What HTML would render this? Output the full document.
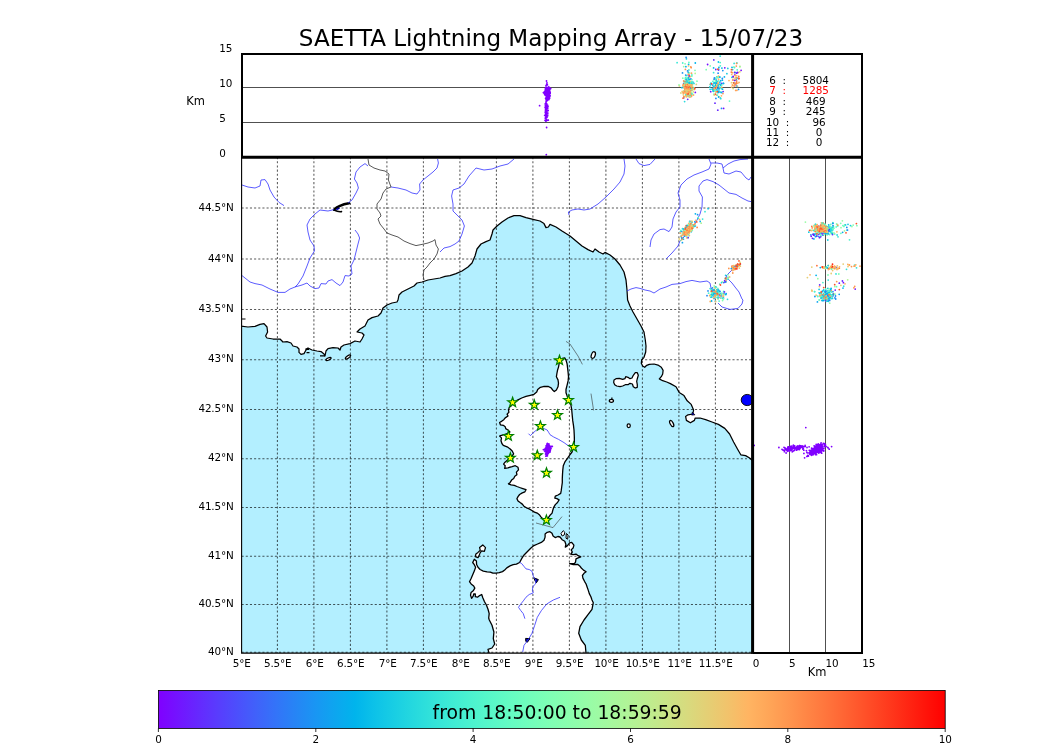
<!DOCTYPE html>
<html lang="en"><head><meta charset="utf-8"><title>SAETTA Lightning Mapping Array - 15/07/23</title>
<style>
html,body{margin:0;padding:0;background:#fff;}
svg{display:block;font-family:"DejaVu Sans","Liberation Sans",sans-serif;}
text{fill:#000;}
.tk{font-size:10.4px;letter-spacing:-0.16px;}
.grid{stroke:#000;stroke-width:1.04;stroke-dasharray:2.08 2.08;fill:none;opacity:.66}
.riv{stroke:#3232ff;stroke-width:0.8;fill:none;stroke-linejoin:round}
.cst{stroke:#000;stroke-width:1.25;fill:none;stroke-linejoin:round}
.land{fill:#fff;stroke:none}
.isl{fill:#fff;stroke:#000;stroke-width:1.25;stroke-linejoin:round}
</style></head><body>
<svg width="1050" height="750" viewBox="0 0 1050 750">
<defs>
<clipPath id="mapclip"><rect x="241.6" y="157.1" width="510.9" height="495.9"/></clipPath>

<linearGradient id="rb" x1="0" x2="1" y1="0" y2="0"><stop offset="0.000" stop-color="#8000ff"/><stop offset="0.025" stop-color="#7314ff"/><stop offset="0.050" stop-color="#6628fe"/><stop offset="0.075" stop-color="#593cfd"/><stop offset="0.100" stop-color="#4c4ffc"/><stop offset="0.125" stop-color="#4062fa"/><stop offset="0.150" stop-color="#3374f8"/><stop offset="0.175" stop-color="#2685f5"/><stop offset="0.200" stop-color="#1996f3"/><stop offset="0.225" stop-color="#0da6ef"/><stop offset="0.250" stop-color="#00b4ec"/><stop offset="0.275" stop-color="#0dc2e8"/><stop offset="0.300" stop-color="#19cee3"/><stop offset="0.325" stop-color="#26d9de"/><stop offset="0.350" stop-color="#33e3d9"/><stop offset="0.375" stop-color="#40ecd4"/><stop offset="0.400" stop-color="#4df3ce"/><stop offset="0.425" stop-color="#59f8c8"/><stop offset="0.450" stop-color="#66fcc2"/><stop offset="0.475" stop-color="#73febb"/><stop offset="0.500" stop-color="#80ffb4"/><stop offset="0.525" stop-color="#8cfead"/><stop offset="0.550" stop-color="#99fca6"/><stop offset="0.575" stop-color="#a6f89e"/><stop offset="0.600" stop-color="#b2f396"/><stop offset="0.625" stop-color="#bfec8e"/><stop offset="0.650" stop-color="#cce385"/><stop offset="0.675" stop-color="#d9d97d"/><stop offset="0.700" stop-color="#e5ce74"/><stop offset="0.725" stop-color="#f2c26b"/><stop offset="0.750" stop-color="#ffb462"/><stop offset="0.775" stop-color="#ffa658"/><stop offset="0.800" stop-color="#ff964f"/><stop offset="0.825" stop-color="#ff8545"/><stop offset="0.850" stop-color="#ff743c"/><stop offset="0.875" stop-color="#ff6232"/><stop offset="0.900" stop-color="#ff4f28"/><stop offset="0.925" stop-color="#ff3c1e"/><stop offset="0.950" stop-color="#ff2814"/><stop offset="0.975" stop-color="#ff140a"/><stop offset="1.000" stop-color="#ff0000"/></linearGradient>
</defs>
<rect width="1050" height="750" fill="#fff"/>
<text x="551" y="45.7" text-anchor="middle" font-size="23.05">SAETTA Lightning Mapping Array - 15/07/23</text>
<g clip-path="url(#mapclip)">
<rect x="241.6" y="157.1" width="510.9" height="495.9" fill="#b3efff"/>
<polygon class="land" points="230.0,326.0 241.0,326.0 248.0,327.0 255.0,326.4 260.0,324.4 264.0,323.6 267.0,327.0 267.6,332.0 265.6,336.0 267.0,338.0 273.0,339.0 280.0,339.0 283.0,342.0 287.0,341.6 291.0,343.0 293.0,346.0 297.0,347.0 299.0,349.0 299.0,352.4 301.0,354.4 304.0,353.6 306.0,350.0 308.0,348.0 312.0,350.0 317.0,351.0 321.0,351.6 324.0,354.0 325.0,356.0 326.0,351.0 328.0,348.6 333.0,347.6 338.0,348.0 340.0,350.0 341.0,347.0 344.0,345.0 350.0,343.6 355.0,341.0 360.0,342.0 362.0,339.0 364.0,335.0 362.0,333.0 357.0,332.0 360.0,329.0 365.0,326.0 368.0,320.0 372.0,317.6 378.0,316.0 381.0,313.0 383.0,308.0 387.0,305.0 392.0,303.0 397.0,302.0 398.0,300.0 399.0,295.0 402.0,292.0 406.0,290.0 410.0,288.0 414.0,286.0 417.0,283.0 422.0,282.0 428.0,280.0 434.0,279.0 440.0,278.0 445.0,276.4 450.0,275.6 456.0,273.6 462.0,271.0 468.0,267.0 472.0,263.0 475.0,256.0 477.0,249.0 481.0,244.0 486.0,241.6 490.0,240.0 492.0,234.0 493.0,230.0 497.0,226.0 502.0,222.0 508.0,218.0 514.0,215.6 520.0,215.6 526.0,217.6 534.0,219.6 540.0,221.0 544.0,223.6 546.0,227.6 548.4,227.0 550.0,224.4 556.0,227.0 562.0,231.0 570.0,236.0 576.0,241.0 582.0,246.0 588.0,249.6 593.0,252.0 595.0,249.0 599.0,252.0 603.0,254.0 605.0,252.4 610.0,255.0 615.0,259.0 620.0,265.0 624.0,272.0 626.0,280.0 627.0,290.0 627.6,300.0 630.0,306.0 633.0,312.0 637.0,319.0 641.0,326.0 644.0,332.0 645.3,340.0 646.0,346.0 645.7,352.0 644.0,357.3 641.7,360.0 641.3,363.3 642.7,366.0 644.7,367.3 646.7,365.3 649.3,364.3 654.0,364.0 658.0,365.1 661.3,367.3 663.1,370.4 662.7,374.0 661.3,376.7 659.3,378.9 662.7,380.7 666.7,382.0 670.4,383.6 676.0,386.8 679.2,392.4 684.0,395.6 687.2,400.8 691.2,404.4 693.6,410.0 692.8,414.0 688.0,414.8 685.6,416.4 686.4,420.4 690.4,422.8 694.4,420.4 695.2,418.0 700.0,418.0 705.6,419.6 712.0,422.0 718.4,424.4 724.8,428.4 729.6,434.0 733.6,442.0 737.6,449.2 740.8,454.8 745.6,455.6 749.6,458.0 753.0,461.0 760.0,461.0 760.0,150.0 230.0,150.0"/>
<polyline class="cst" points="241.0,326.0 248.0,327.0 255.0,326.4 260.0,324.4 264.0,323.6 267.0,327.0 267.6,332.0 265.6,336.0 267.0,338.0 273.0,339.0 280.0,339.0 283.0,342.0 287.0,341.6 291.0,343.0 293.0,346.0 297.0,347.0 299.0,349.0 299.0,352.4 301.0,354.4 304.0,353.6 306.0,350.0 308.0,348.0 312.0,350.0 317.0,351.0 321.0,351.6 324.0,354.0 325.0,356.0 326.0,351.0 328.0,348.6 333.0,347.6 338.0,348.0 340.0,350.0 341.0,347.0 344.0,345.0 350.0,343.6 355.0,341.0 360.0,342.0 362.0,339.0 364.0,335.0 362.0,333.0 357.0,332.0 360.0,329.0 365.0,326.0 368.0,320.0 372.0,317.6 378.0,316.0 381.0,313.0 383.0,308.0 387.0,305.0 392.0,303.0 397.0,302.0 398.0,300.0 399.0,295.0 402.0,292.0 406.0,290.0 410.0,288.0 414.0,286.0 417.0,283.0 422.0,282.0 428.0,280.0 434.0,279.0 440.0,278.0 445.0,276.4 450.0,275.6 456.0,273.6 462.0,271.0 468.0,267.0 472.0,263.0 475.0,256.0 477.0,249.0 481.0,244.0 486.0,241.6 490.0,240.0 492.0,234.0 493.0,230.0 497.0,226.0 502.0,222.0 508.0,218.0 514.0,215.6 520.0,215.6 526.0,217.6 534.0,219.6 540.0,221.0 544.0,223.6 546.0,227.6 548.4,227.0 550.0,224.4 556.0,227.0 562.0,231.0 570.0,236.0 576.0,241.0 582.0,246.0 588.0,249.6 593.0,252.0 595.0,249.0 599.0,252.0 603.0,254.0 605.0,252.4 610.0,255.0 615.0,259.0 620.0,265.0 624.0,272.0 626.0,280.0 627.0,290.0 627.6,300.0 630.0,306.0 633.0,312.0 637.0,319.0 641.0,326.0 644.0,332.0 645.3,340.0 646.0,346.0 645.7,352.0 644.0,357.3 641.7,360.0 641.3,363.3 642.7,366.0 644.7,367.3 646.7,365.3 649.3,364.3 654.0,364.0 658.0,365.1 661.3,367.3 663.1,370.4 662.7,374.0 661.3,376.7 659.3,378.9 662.7,380.7 666.7,382.0 670.4,383.6 676.0,386.8 679.2,392.4 684.0,395.6 687.2,400.8 691.2,404.4 693.6,410.0 692.8,414.0 688.0,414.8 685.6,416.4 686.4,420.4 690.4,422.8 694.4,420.4 695.2,418.0 700.0,418.0 705.6,419.6 712.0,422.0 718.4,424.4 724.8,428.4 729.6,434.0 733.6,442.0 737.6,449.2 740.8,454.8 745.6,455.6 749.6,458.0 753.0,461.0"/>
<polygon class="isl" style="stroke-width:1.3" points="510.5,406.5 513.2,403.3 517.5,400.1 521.7,398.0 526.0,396.4 530.3,395.3 534.0,394.3 536.7,392.1 537.7,389.5 540.4,387.3 544.1,386.3 548.4,386.5 551.1,387.9 552.7,390.0 554.3,391.6 556.4,390.0 558.0,386.8 558.5,383.1 558.0,379.9 556.4,376.7 556.9,373.5 557.5,370.3 558.5,367.1 559.1,363.9 559.6,361.2 562.3,358.5 564.9,358.0 566.0,360.1 567.1,363.9 567.6,368.1 568.1,372.4 568.5,376.7 568.1,380.9 567.1,385.2 566.0,389.5 566.0,392.7 567.1,395.9 568.7,400.1 570.8,404.4 571.7,409.7 572.2,415.1 572.7,420.4 573.5,425.7 574.0,430.0 574.3,436.0 574.4,441.0 573.8,447.0 572.0,452.0 569.7,455.0 567.6,458.2 564.9,461.9 563.3,465.7 562.8,469.9 562.5,474.2 562.3,478.5 562.3,482.7 561.7,487.0 561.2,490.7 560.7,493.4 558.0,495.0 555.3,496.1 554.8,498.2 556.9,498.7 559.1,499.8 557.5,502.5 555.3,504.6 553.7,507.3 552.7,510.5 552.1,513.1 550.5,514.7 548.9,516.9 546.3,520.6 542.5,518.5 540.9,516.9 539.3,514.7 537.2,513.1 534.5,512.1 531.9,510.5 529.2,508.9 526.5,507.8 523.9,506.2 522.3,504.1 520.1,502.5 518.0,500.9 516.9,498.7 518.0,496.6 519.6,494.5 522.3,492.9 524.9,491.8 526.0,489.7 522.8,488.6 519.6,487.5 516.9,486.5 514.3,485.4 511.1,484.9 508.4,483.8 510.0,482.7 511.6,480.1 513.7,478.5 514.8,476.3 516.9,474.7 516.4,472.1 518.5,469.9 518.0,467.3 515.3,465.7 512.1,466.7 507.9,467.8 504.7,468.3 505.2,465.7 503.6,464.1 504.7,462.5 507.9,459.8 511.7,456.6 513.6,453.8 512.2,451.0 509.9,448.7 507.1,446.8 503.3,445.4 501.9,443.5 501.0,440.7 501.5,437.9 499.6,436.1 500.5,435.6 504.3,434.7 508.0,433.3 509.9,431.9 508.0,430.0 505.7,428.6 505.2,426.7 503.3,425.3 500.5,424.9 499.6,422.5 501.9,421.1 503.8,419.7 505.2,417.9 508.0,416.0 507.1,414.1 508.9,412.3 508.5,409.9 509.4,407.1"/>
<polygon class="isl" style="stroke-width:1.3" points="489.3,654.0 488.0,649.3 492.0,648.0 494.7,644.0 493.3,638.7 493.9,632.0 492.0,625.3 489.3,620.0 488.7,618.0 489.2,613.7 488.1,609.5 486.5,605.2 484.4,601.5 482.8,597.7 481.7,594.5 479.6,595.6 477.5,597.2 475.3,596.7 475.3,594.0 473.7,594.0 473.2,596.1 471.6,598.3 470.5,595.1 471.1,592.4 473.2,590.8 474.8,588.1 473.7,586.0 471.1,583.9 469.5,581.7 471.1,578.5 472.7,574.8 474.3,571.1 475.6,567.3 474.3,564.7 472.7,562.5 474.3,559.3 476.4,560.9 476.6,564.5 478.0,567.3 480.1,569.5 483.3,571.1 487.1,571.9 490.3,572.1 492.9,573.2 496.1,573.2 499.3,572.7 502.5,571.6 504.7,570.0 506.8,567.9 510.0,565.9 513.2,564.7 516.4,564.1 519.6,562.5 522.1,557.9 524.3,554.7 527.5,551.5 530.7,548.3 533.9,545.6 537.6,544.0 541.3,542.4 544.0,540.3 545.1,537.1 545.1,533.9 547.2,532.3 549.9,531.7 552.0,533.3 553.1,536.0 555.2,537.6 557.9,536.5 560.0,537.0 562.1,539.7 564.8,541.3 565.9,544.5 565.3,547.2 567.5,545.6 569.6,542.9 571.7,542.4 573.9,545.1 573.3,547.7 571.2,549.9 572.3,552.0 570.7,554.1 573.3,554.7 576.0,554.1 578.1,555.7 580.8,556.8 578.1,557.9 576.0,558.9 575.5,562.1 574.4,563.7 569.6,563.7 573.3,564.6 577.6,564.3 579.7,565.9 581.3,568.0 583.5,570.1 586.1,571.7 584.0,573.3 582.4,575.5 582.9,578.1 584.5,581.3 586.1,584.0 587.2,587.2 588.3,590.4 589.3,593.6 590.9,596.8 592.0,600.0 593.3,602.7 592.0,609.3 588.0,614.7 584.0,620.0 580.0,626.7 578.7,633.3 581.3,640.0 585.3,645.3 586.1,654.0"/>
<polygon class="isl" points="482.8,544.9 485.5,547.6 484.4,551.3 481.6,550.9 480.1,552.9 479.1,555.6 478.0,557.7 475.3,556.7 475.9,554.0 478.0,552.4 480.3,550.3 479.6,547.6"/>
<polygon class="isl" points="614.0,380.0 616.0,378.7 619.3,378.4 622.7,379.3 624.9,378.7 625.7,376.7 628.0,377.3 630.0,378.7 632.0,378.0 633.3,375.3 635.3,372.7 637.3,372.7 638.3,375.3 637.3,378.7 636.7,381.3 637.3,384.7 637.3,387.3 635.3,388.0 633.3,386.7 632.4,384.0 630.0,383.3 628.0,384.7 625.3,384.7 622.7,386.0 620.0,386.7 616.7,386.0 614.7,384.7 613.7,382.4"/>
<ellipse class="isl" cx="593.3" cy="355" rx="1.9" ry="3.4" transform="rotate(20 593.2 355)"/>
<ellipse class="isl" cx="611.4" cy="400.8" rx="2.1" ry="1.5"/><path d="M611.9 397.6v2" stroke="#000" stroke-width="1.2"/>
<ellipse class="isl" cx="628.7" cy="425.7" rx="1.6" ry="1.8"/>
<ellipse class="isl" cx="671.7" cy="423.6" rx="1.5" ry="3.4" transform="rotate(-28 671.7 423.6)"/>
<ellipse class="isl" cx="328.5" cy="359" rx="2.8" ry="1.1" transform="rotate(-25 328.5 359)"/>
<ellipse class="isl" cx="348" cy="357" rx="3.1" ry="1.1" transform="rotate(-35 348 357)"/>
<path d="M305.5 348.3h3.5v1.8h-3.5zM306.5 352h3v1.2h-3zM320 355.3h5v1.2h-5z" fill="#000"/>
<path d="M242 319h3.5" stroke="#000" stroke-width="1.2"/>
<path class="isl" style="stroke-width:1" d="M561 533.5l2.2-2.8 1.6 1.5-.6 2.8-2 1zM566.3 533.5l1.8 1.5-.5 4.2-1.6-1z"/>
<ellipse cx="747.2" cy="400" rx="6" ry="5.6" fill="#0000ff" stroke="#000" stroke-width="0.9"/>
<path d="M692.3 412.2l2.6 2.6-3.2.3z" fill="#0000ff" stroke="#000" stroke-width="0.8"/>
<path d="M334 209.8C338 205.5 343 204.2 349 203.2" stroke="#000" stroke-width="2.4" fill="none" stroke-linecap="round"/>
<path d="M334 210C337 211.5 339 212 341.5 211.6" stroke="#000" stroke-width="1.6" fill="none" stroke-linecap="round"/>
<path d="M335.5 209.5l3-2.2 1.5 1.2-2.5 1.6z" fill="#0000c8"/>
<path d="M533.8 577.8l4.6 1.8-2 3.2-1.2-1.6z" fill="#0000c0" stroke="#000" stroke-width="1"/>
<path d="M525.6 638.4l4.4 .2-2.6 3.6-1.6-.8z" fill="#0000c0" stroke="#000" stroke-width="1"/>
<path class="grid" d="M277.4 157.1V653.0M313.9 157.1V653.0M350.4 157.1V653.0M386.9 157.1V653.0M423.4 157.1V653.0M459.9 157.1V653.0M496.4 157.1V653.0M532.9 157.1V653.0M569.4 157.1V653.0M605.9 157.1V653.0M642.4 157.1V653.0M678.9 157.1V653.0M715.4 157.1V653.0M241.6 652.2H752.5M241.6 604.4H752.5M241.6 556.2H752.5M241.6 507.6H752.5M241.6 458.7H752.5M241.6 409.4H752.5M241.6 359.7H752.5M241.6 309.6H752.5M241.6 259.1H752.5M241.6 208.1H752.5"/>
<polyline class="riv" points="242.0,185.0 248.0,187.0 255.0,188.0 260.0,186.0 261.0,180.0 265.0,179.6 268.0,184.0 270.0,190.0 274.0,197.0 279.0,202.4 284.0,205.6"/>
<polyline class="riv" points="334.0,209.6 328.0,211.0 320.0,210.0 315.0,214.0 310.0,219.0 307.0,225.0 308.0,232.0 310.0,240.0 314.0,246.0 314.4,251.0 310.0,258.0 307.0,266.0 303.0,276.0 298.0,284.0 295.0,287.0 290.0,289.0 285.0,292.4 278.0,292.4 270.0,289.0 262.0,285.0 255.0,283.6 250.0,282.0 245.0,278.0 242.0,275.6"/>
<polyline class="riv" points="348.0,203.0 352.0,200.0 356.0,193.0 358.4,188.0 357.0,183.0 354.4,179.0 356.0,172.0 360.0,167.0 365.0,163.6 368.0,166.0"/>
<polyline class="riv" points="355.0,230.0 358.0,234.0 359.6,238.0 358.0,244.0 356.0,252.0 354.0,260.0 351.0,266.0 352.0,274.0 349.0,276.0 345.0,275.6 343.0,282.0 340.0,285.6 336.0,283.0 332.0,279.6 328.0,281.0 326.0,284.0 321.0,283.6 319.0,288.0 315.0,288.6 310.0,286.0 307.0,283.0 302.0,285.0 297.0,286.4 295.0,287.0"/>
<polyline class="riv" points="391.0,187.0 398.0,188.0 406.0,190.0 412.0,193.0 417.0,194.0 420.0,190.0 419.6,184.0 423.0,180.0 428.0,176.0 433.0,172.0 437.0,168.0 438.4,163.0 437.6,159.0"/>
<polyline class="riv" points="440.0,252.0 444.0,248.0 450.0,246.6 455.0,244.0 459.0,241.0 462.0,234.0 464.4,226.0 462.0,220.0 457.0,215.0 453.0,211.0 453.0,204.0 451.6,196.0 453.0,190.0 459.0,188.0 464.0,184.0 469.0,176.0 476.0,168.0 484.0,170.0 492.0,169.0 500.0,166.0 508.0,164.0 514.0,159.0"/>
<polyline class="riv" points="569.0,215.0 568.4,212.0 572.0,210.0 578.0,209.0 584.0,210.0 590.0,209.0 598.0,204.0 606.0,197.0 614.0,189.0 620.0,182.0 624.0,174.0 625.0,166.0 624.0,159.0"/>
<polyline class="riv" points="636.0,159.0 639.0,163.6 644.0,165.6 650.0,164.4 655.0,159.0"/>
<polyline class="riv" points="650.0,247.0 651.0,240.0 654.0,234.0 660.0,229.6 664.0,229.0 669.0,231.6 672.0,227.0 673.0,219.0 676.0,212.0 680.0,207.0 680.0,200.0 678.0,193.0 681.0,185.0 687.0,179.0 694.0,175.0 702.0,172.0 709.0,169.0 711.0,164.0 709.0,159.0"/>
<polyline class="riv" points="711.0,163.0 717.0,163.0 722.0,164.0 723.0,168.0 724.0,173.0 729.0,174.0 736.0,171.0 741.0,172.0 746.0,178.0 749.0,180.0 751.0,177.0"/>
<polyline class="riv" points="723.0,168.0 728.0,164.0 734.0,161.0 740.0,159.6 748.0,159.0"/>
<polyline class="riv" points="666.0,259.0 672.0,253.0 678.0,246.0 680.0,241.0 686.0,235.0 692.0,229.0 697.0,220.0 700.0,214.0 702.0,207.0 702.4,197.0 699.0,191.0 699.0,186.0 703.0,181.0 707.0,179.6 713.0,181.6 719.0,185.0 724.0,189.0 729.0,193.0 736.0,194.4 742.0,198.0 748.0,201.0 751.0,201.6"/>
<polyline class="riv" points="627.0,291.0 631.0,289.0 636.0,287.6 640.0,288.4 645.0,290.0 650.0,291.0 654.0,293.0 660.0,289.0 666.0,287.0 672.0,284.4 680.0,283.6 686.0,281.6 692.0,280.4 700.0,282.0 707.0,281.0 710.0,283.0 711.0,288.0 713.0,290.0"/>
<polyline class="riv" points="732.0,270.0 729.0,273.0 726.0,276.0 729.0,280.0 732.0,283.0 735.0,287.0 739.0,292.0 742.0,299.0 743.0,300.0 742.0,304.0 738.0,308.4 730.0,309.4 722.0,307.0 718.0,303.0"/>
<polyline class="riv" points="528.5,433.7 530.4,435.6 533.2,432.8 536.5,430.0 539.7,428.6 543.5,428.4 547.2,430.0 548.6,432.3 550.0,434.7 553.7,437.0 558.4,439.3 564.0,442.6 568.0,445.5 572.0,448.0"/>
<polyline class="riv" points="519.6,562.3 521.7,563.6 523.9,566.3 526.0,568.9 529.2,569.5 531.9,571.1 532.9,574.3 533.5,576.9 535.6,579.6 535.6,583.9 532.9,586.5 532.4,590.3 533.3,592.9 529.2,594.5 526.0,597.2 523.3,600.9 520.7,604.1 518.5,607.3 520.7,610.5 523.3,613.7 524.9,618.7"/>
<polyline class="riv" points="560.0,597.3 553.3,600.0 546.7,604.0 541.3,610.7 537.3,617.3 534.7,625.3 532.0,633.3 528.0,640.0 524.0,645.3 522.7,652.0"/>
<polyline points="368.0,159.0 369.0,165.0 374.0,168.0 380.0,170.0 385.0,171.0 389.0,174.0 388.4,180.0 391.0,187.0 386.0,189.0 383.0,193.0 381.0,199.0 377.0,204.0 377.0,209.0 380.0,213.0 381.0,216.0 378.0,219.0 380.0,224.0 384.0,229.0 387.0,233.0 392.0,235.0 398.0,237.0 404.0,241.0 410.0,243.6 416.0,245.6 422.0,244.4 428.0,243.0 433.0,241.0 435.0,239.6 436.0,245.0 438.4,249.0 437.0,254.0 434.0,259.0 430.0,263.0 427.0,267.0 424.0,270.0 423.0,275.0 424.0,280.0" fill="none" stroke="#2e2e2e" stroke-width="0.8"/>
<polyline points="566.0,341.4 570.0,344.0 578.0,356.0 582.4,364.4" fill="none" stroke="#333" stroke-width="0.6"/>
<polyline points="591.0,393.6 593.6,410.4" fill="none" stroke="#333" stroke-width="0.6"/>
<polyline points="536.0,523.0 553.0,527.6 562.0,516.6" fill="none" stroke="#333" stroke-width="0.6"/>
</g>
<path d="M242 87.5H752M242 122.5H752M789.5 157V652M825.5 157V652" stroke="#3c3c3c" stroke-width="0.9" fill="none"/>
<g fill="none" stroke-width="1.8" stroke-linecap="round">
<path stroke="#8000ff" d="M546.0 450.1h.01M548.2 451.5h.01M545.9 456.2h.01M546.3 448.0h.01M548.6 449.2h.01M546.6 449.8h.01M548.7 452.3h.01M545.9 450.0h.01M546.9 450.0h.01M547.0 447.0h.01M547.5 444.8h.01M546.6 453.5h.01M545.7 451.7h.01M547.2 449.8h.01M544.6 450.9h.01M546.4 452.4h.01M548.6 452.3h.01M546.9 449.5h.01M546.9 451.9h.01M547.8 447.6h.01M548.9 446.8h.01M546.5 447.6h.01M548.5 447.4h.01M546.6 449.3h.01M547.1 447.7h.01M547.5 449.5h.01M546.7 453.9h.01M548.4 453.4h.01M546.6 445.6h.01M547.3 455.9h.01M547.7 451.8h.01M546.9 444.9h.01M547.1 445.7h.01M549.3 449.4h.01M546.7 449.0h.01M548.0 445.3h.01M548.3 451.7h.01M549.5 445.6h.01M548.0 452.4h.01M549.0 444.3h.01M546.9 452.5h.01M545.0 449.2h.01M547.8 450.4h.01M547.2 449.9h.01M548.2 446.5h.01M547.2 447.6h.01M548.3 451.1h.01M548.6 448.6h.01M549.7 451.4h.01M548.0 447.6h.01M547.2 446.9h.01M547.5 448.8h.01M547.7 449.0h.01M546.3 455.5h.01M549.8 452.0h.01M547.1 455.8h.01M547.8 452.6h.01M545.0 449.3h.01M550.6 449.0h.01M547.7 451.3h.01M546.9 447.4h.01M548.3 453.2h.01M545.1 451.6h.01M546.6 448.9h.01M546.3 448.3h.01M548.3 453.4h.01M549.7 450.7h.01M547.5 452.2h.01M548.3 450.1h.01M547.0 443.9h.01M546.2 445.6h.01M545.9 449.3h.01M548.3 451.5h.01M547.6 451.7h.01M547.3 449.9h.01M548.3 448.5h.01M548.2 452.1h.01M550.0 452.1h.01M546.8 449.0h.01M546.5 451.1h.01M546.1 448.5h.01M546.4 452.4h.01M545.6 454.0h.01M547.5 449.3h.01M546.3 451.1h.01M548.2 451.9h.01M546.4 450.6h.01M548.8 446.6h.01M546.6 453.6h.01M547.7 450.7h.01M548.5 451.1h.01M545.9 451.4h.01M546.5 451.2h.01M546.7 446.3h.01M546.4 449.9h.01M549.8 450.2h.01M548.9 444.0h.01M546.2 453.2h.01M545.3 448.5h.01M548.3 451.4h.01M547.9 452.3h.01M548.0 451.7h.01M547.7 448.1h.01M548.7 446.6h.01M545.7 448.0h.01M546.6 448.9h.01M547.2 453.2h.01M549.2 450.4h.01M547.5 447.9h.01M545.8 449.3h.01M549.0 446.1h.01M547.0 450.2h.01M549.2 449.9h.01M546.6 446.1h.01M548.7 452.1h.01M548.3 449.9h.01M547.6 452.5h.01M546.2 446.5h.01M545.9 450.8h.01M546.5 451.2h.01M547.0 451.2h.01M547.2 445.4h.01M548.9 448.4h.01M545.6 448.4h.01M547.3 453.8h.01M543.4 449.6h.01M546.6 452.3h.01M549.2 450.0h.01M548.6 450.7h.01M545.4 449.7h.01M547.4 449.2h.01M547.0 451.0h.01M547.5 453.1h.01M546.4 455.5h.01M546.8 450.6h.01M547.1 448.3h.01M547.3 451.1h.01M548.1 452.7h.01M547.2 447.4h.01M547.9 451.9h.01M546.6 450.6h.01M548.2 451.1h.01M548.0 447.9h.01M547.0 447.4h.01M548.2 449.8h.01M546.5 450.3h.01M547.4 443.5h.01M548.9 447.3h.01M548.5 453.2h.01M548.0 445.8h.01M548.2 450.9h.01M546.6 451.6h.01M547.4 454.9h.01M546.0 449.1h.01M546.4 448.4h.01M549.1 450.2h.01M545.6 451.6h.01M546.2 452.3h.01M546.4 449.2h.01M547.7 453.7h.01M545.9 448.8h.01M546.0 453.3h.01M547.7 449.5h.01M548.3 447.4h.01M547.2 446.4h.01M546.6 446.4h.01M546.3 447.5h.01M545.5 451.5h.01M546.5 448.9h.01M548.6 449.7h.01M549.8 447.9h.01M549.2 446.5h.01M548.2 451.0h.01M550.3 450.7h.01M549.4 446.8h.01M549.5 447.8h.01M547.9 448.8h.01M552.3 446.4h.01M548.6 449.0h.01M547.9 452.0h.01M549.1 449.6h.01M547.8 449.4h.01M547.5 450.2h.01M550.0 448.5h.01M548.9 447.3h.01M547.8 447.5h.01M550.7 447.2h.01M547.4 445.8h.01M547.7 450.6h.01M551.0 448.4h.01M549.0 449.9h.01M549.3 446.2h.01M548.7 450.2h.01M548.5 446.7h.01M548.5 450.6h.01M549.5 448.6h.01M547.5 450.4h.01M547.9 450.3h.01M548.3 449.1h.01M550.3 448.0h.01M547.7 450.1h.01M549.0 448.4h.01M547.1 449.8h.01M548.7 449.7h.01M545.7 448.8h.01M548.8 450.0h.01M548.4 447.8h.01M548.8 449.9h.01M549.4 450.5h.01M550.2 450.5h.01M546.0 448.9h.01M548.5 449.2h.01M548.3 447.9h.01M547.2 448.6h.01M550.0 449.2h.01M549.9 449.5h.01M547.1 449.0h.01M551.4 446.4h.01M547.7 447.5h.01M549.6 450.0h.01M548.2 450.7h.01M548.5 449.3h.01M546.4 449.2h.01M549.4 451.3h.01M550.4 449.0h.01M547.9 448.9h.01M545.1 448.7h.01M548.2 447.3h.01M549.8 448.6h.01M548.9 447.4h.01M549.3 449.6h.01M546.9 448.0h.01M548.4 449.3h.01M550.2 449.9h.01M548.2 450.8h.01M549.3 447.2h.01M548.6 450.2h.01M549.8 446.2h.01M549.1 449.7h.01M549.2 450.1h.01M546.7 92.0h.01M547.4 91.8h.01M546.7 89.5h.01M547.7 92.2h.01M548.7 95.9h.01M544.2 93.6h.01M546.9 90.9h.01M548.7 91.3h.01M545.9 91.4h.01M547.3 96.6h.01M548.2 99.3h.01M547.5 93.8h.01M546.1 89.3h.01M547.3 96.8h.01M545.6 98.4h.01M545.5 95.0h.01M543.4 92.6h.01M545.6 93.0h.01M549.1 87.5h.01M546.9 94.0h.01M547.6 91.0h.01M547.7 89.7h.01M548.7 90.3h.01M548.5 91.9h.01M548.1 93.8h.01M548.7 91.6h.01M549.7 96.7h.01M546.6 92.5h.01M546.7 92.8h.01M548.3 94.3h.01M547.6 94.0h.01M547.8 94.3h.01M544.7 93.9h.01M545.9 87.4h.01M547.8 96.3h.01M547.5 88.3h.01M548.8 96.9h.01M546.0 93.8h.01M549.2 94.1h.01M547.8 95.9h.01M549.4 90.0h.01M546.8 93.6h.01M547.5 90.0h.01M544.2 92.0h.01M546.8 92.1h.01M547.3 92.1h.01M547.5 93.4h.01M546.2 91.4h.01M548.7 94.0h.01M547.1 92.1h.01M547.6 97.0h.01M546.7 92.8h.01M547.4 95.8h.01M546.3 90.7h.01M547.2 94.5h.01M546.6 93.1h.01M547.8 93.6h.01M546.8 92.2h.01M549.6 94.6h.01M548.9 89.4h.01M550.1 89.1h.01M547.7 97.9h.01M545.0 95.0h.01M549.6 88.0h.01M546.8 93.6h.01M548.5 98.5h.01M547.8 89.9h.01M546.0 97.9h.01M546.8 87.4h.01M550.7 88.6h.01M546.6 94.0h.01M547.3 89.5h.01M545.3 90.2h.01M549.7 90.8h.01M549.0 96.7h.01M548.9 93.2h.01M545.3 92.9h.01M549.4 93.0h.01M546.6 93.9h.01M548.0 92.1h.01M545.4 88.9h.01M547.3 89.1h.01M549.7 91.9h.01M550.1 95.7h.01M548.6 93.3h.01M548.3 92.2h.01M544.8 93.0h.01M546.3 93.9h.01M548.3 99.3h.01M546.7 92.6h.01M548.6 92.7h.01M549.3 90.4h.01M545.4 94.7h.01M546.9 97.9h.01M547.9 97.4h.01M546.2 91.1h.01M549.1 89.3h.01M548.7 98.4h.01M546.6 99.1h.01M548.3 92.8h.01M547.2 93.8h.01M548.4 88.8h.01M548.9 99.6h.01M547.0 94.9h.01M550.1 92.3h.01M549.6 98.3h.01M550.1 92.9h.01M545.6 92.6h.01M548.8 96.6h.01M549.9 92.5h.01M547.3 97.9h.01M547.5 90.9h.01M548.1 92.7h.01M548.4 94.8h.01M545.6 93.0h.01M550.1 92.4h.01M548.0 88.2h.01M547.3 92.0h.01M547.4 88.7h.01M546.5 89.4h.01M549.3 93.6h.01M547.9 92.0h.01M545.6 88.2h.01M548.1 96.6h.01M545.1 91.4h.01M544.9 94.8h.01M546.0 102.5h.01M547.7 89.7h.01M548.0 87.3h.01M545.4 91.3h.01M547.4 84.9h.01M548.6 89.4h.01M547.2 90.2h.01M547.2 97.5h.01M547.7 98.7h.01M548.7 94.6h.01M545.7 90.8h.01M546.9 95.2h.01M545.5 88.3h.01M549.1 92.0h.01M547.0 97.2h.01M548.9 90.4h.01M548.8 93.6h.01M546.7 92.8h.01M548.9 92.0h.01M546.8 92.0h.01M547.1 94.0h.01M545.9 87.9h.01M548.0 93.2h.01M548.0 95.6h.01M548.7 87.0h.01M549.1 92.2h.01M549.1 98.8h.01M546.5 89.7h.01M547.3 95.0h.01M546.1 94.1h.01M548.0 95.5h.01M548.3 95.2h.01M547.6 96.2h.01M547.9 89.1h.01M546.3 90.7h.01M547.5 91.5h.01M547.5 88.8h.01M545.5 88.2h.01M545.7 91.1h.01M548.2 95.4h.01M547.7 92.5h.01M548.2 94.2h.01M548.9 91.7h.01M548.5 92.2h.01M549.7 94.9h.01M547.4 94.7h.01M546.3 96.9h.01M548.9 91.3h.01M547.3 92.2h.01M546.8 97.9h.01M548.5 94.7h.01M549.6 94.8h.01M545.4 92.0h.01M546.4 96.3h.01M546.2 91.1h.01M547.8 94.0h.01M548.8 89.6h.01M546.8 88.5h.01M547.1 93.4h.01M548.5 91.8h.01M548.3 92.0h.01M549.0 90.9h.01M548.2 94.9h.01M546.0 85.6h.01M545.7 94.6h.01M547.5 92.9h.01M547.6 95.4h.01M547.1 87.6h.01M548.7 91.6h.01M548.1 91.7h.01M549.2 87.8h.01M547.6 88.7h.01M550.0 91.8h.01M550.2 93.2h.01M547.6 95.9h.01M545.2 90.9h.01M547.8 92.6h.01M546.8 93.7h.01M547.0 91.8h.01M545.8 90.2h.01M546.5 97.2h.01M546.6 84.5h.01M547.0 89.0h.01M547.3 92.9h.01M544.9 93.9h.01M546.0 95.6h.01M549.1 93.7h.01M548.9 91.1h.01M548.7 94.8h.01M547.7 97.8h.01M546.6 90.1h.01M544.9 91.5h.01M549.2 91.2h.01M545.8 92.2h.01M545.2 112.1h.01M547.1 110.6h.01M545.9 113.8h.01M545.5 110.4h.01M545.1 107.2h.01M546.4 107.2h.01M546.6 115.8h.01M546.2 116.5h.01M546.6 112.1h.01M545.2 118.1h.01M546.8 104.7h.01M546.4 100.1h.01M545.7 106.9h.01M547.0 117.3h.01M547.0 105.8h.01M548.0 120.1h.01M546.2 119.3h.01M546.4 110.9h.01M546.3 96.1h.01M546.9 107.5h.01M545.9 117.5h.01M546.1 107.5h.01M545.2 103.9h.01M545.7 118.1h.01M548.0 106.5h.01M546.1 120.0h.01M546.8 107.7h.01M546.6 109.6h.01M547.4 100.5h.01M544.7 115.4h.01M546.4 115.2h.01M546.6 111.0h.01M546.8 117.5h.01M546.6 116.8h.01M546.3 110.4h.01M545.5 108.9h.01M546.4 109.0h.01M545.6 107.5h.01M545.9 116.7h.01M547.6 105.2h.01M546.5 112.2h.01M546.6 112.1h.01M546.8 111.7h.01M545.8 108.4h.01M545.7 113.2h.01M546.1 117.8h.01M546.6 114.0h.01M547.7 108.2h.01M546.9 98.7h.01M546.1 112.5h.01M547.1 120.3h.01M547.2 96.8h.01M545.9 121.2h.01M545.4 112.8h.01M546.6 120.0h.01M545.4 105.6h.01M548.3 120.2h.01M545.3 107.6h.01M547.8 115.1h.01M546.9 105.7h.01M545.5 117.9h.01M546.5 115.1h.01M546.1 100.0h.01M546.2 110.1h.01M545.7 114.1h.01M546.1 101.7h.01M546.2 92.7h.01M547.9 113.1h.01M546.5 113.1h.01M546.6 115.8h.01M547.2 115.4h.01M547.5 107.2h.01M546.7 115.7h.01M547.4 116.0h.01M547.2 115.5h.01M548.2 110.5h.01M546.8 104.0h.01M547.0 116.3h.01M545.8 113.6h.01M546.5 108.4h.01M545.8 108.2h.01M547.1 113.1h.01M547.0 98.8h.01M547.5 115.9h.01M545.0 120.3h.01M546.3 113.5h.01M547.1 105.3h.01M547.1 108.7h.01M547.4 116.0h.01M546.9 108.7h.01M539.6 105.7h.01M546.3 154.7h.01M546.5 81.0h.01M547.0 83.0h.01M546.6 127.5h.01M813.9 453.3h.01M817.0 448.3h.01M810.7 454.1h.01M818.4 447.1h.01M812.1 452.2h.01M816.5 448.8h.01M819.0 452.8h.01M816.1 450.9h.01M818.5 449.9h.01M807.8 455.5h.01M818.8 447.3h.01M813.2 453.2h.01M814.1 451.0h.01M824.8 445.5h.01M821.7 450.0h.01M815.3 452.1h.01M819.0 451.8h.01M821.2 452.3h.01M820.5 452.4h.01M824.2 444.4h.01M814.7 446.8h.01M821.9 448.5h.01M822.2 447.5h.01M817.2 449.5h.01M825.4 444.3h.01M818.4 446.1h.01M813.5 454.6h.01M821.7 447.8h.01M813.0 450.1h.01M814.4 450.3h.01M818.2 446.3h.01M812.2 452.7h.01M815.6 446.2h.01M813.7 451.7h.01M816.9 449.5h.01M816.4 449.3h.01M811.1 453.9h.01M809.2 452.9h.01M816.6 447.6h.01M817.0 449.0h.01M818.2 448.1h.01M811.9 455.0h.01M811.3 451.9h.01M819.8 447.9h.01M818.7 452.1h.01M811.4 450.4h.01M810.8 452.3h.01M820.8 447.3h.01M819.6 450.7h.01M812.2 449.8h.01M818.8 449.0h.01M817.2 450.9h.01M820.1 448.2h.01M818.0 447.8h.01M813.5 449.3h.01M817.1 448.5h.01M816.4 450.3h.01M821.7 453.2h.01M818.4 451.3h.01M818.7 448.4h.01M819.9 448.9h.01M814.9 451.8h.01M819.4 447.7h.01M818.1 449.7h.01M812.2 451.4h.01M817.2 449.0h.01M816.0 449.7h.01M818.4 449.3h.01M819.2 447.0h.01M813.2 450.1h.01M817.5 451.5h.01M813.9 449.8h.01M804.6 457.8h.01M808.4 455.6h.01M809.9 454.1h.01M817.6 451.0h.01M815.7 454.7h.01M813.1 449.2h.01M816.6 447.3h.01M812.0 449.4h.01M810.5 452.0h.01M827.7 447.5h.01M814.8 447.8h.01M817.3 448.6h.01M819.8 450.6h.01M813.2 454.5h.01M810.1 453.5h.01M812.2 448.3h.01M818.8 450.1h.01M816.0 451.3h.01M813.4 451.4h.01M811.4 450.7h.01M815.4 449.8h.01M811.5 452.9h.01M817.7 447.3h.01M823.7 450.3h.01M806.9 456.4h.01M818.8 448.9h.01M814.1 450.8h.01M810.4 450.7h.01M811.1 452.0h.01M819.1 451.3h.01M817.6 448.0h.01M817.6 448.8h.01M815.0 451.1h.01M806.9 452.5h.01M824.6 443.7h.01M816.6 451.3h.01M815.3 451.2h.01M814.4 451.8h.01M813.8 452.5h.01M814.3 450.8h.01M817.5 448.6h.01M815.1 449.7h.01M816.3 446.9h.01M820.6 447.9h.01M818.7 448.5h.01M818.7 450.9h.01M811.3 453.1h.01M815.4 453.4h.01M817.8 449.3h.01M817.0 449.6h.01M813.4 449.1h.01M822.0 446.4h.01M819.7 449.7h.01M819.6 447.6h.01M819.7 448.0h.01M814.9 448.1h.01M803.9 453.4h.01M815.3 449.4h.01M811.6 448.2h.01M817.3 445.0h.01M819.6 449.0h.01M817.6 450.7h.01M811.3 455.3h.01M813.2 452.6h.01M816.1 449.4h.01M816.5 447.9h.01M816.8 451.6h.01M820.1 447.8h.01M814.8 447.5h.01M819.2 446.2h.01M820.8 448.6h.01M811.3 452.5h.01M821.4 451.1h.01M816.2 452.5h.01M823.9 448.4h.01M808.4 456.0h.01M813.7 451.6h.01M814.8 453.3h.01M811.9 453.0h.01M819.9 449.4h.01M821.3 450.6h.01M815.7 452.4h.01M810.3 450.6h.01M823.8 450.9h.01M818.3 448.3h.01M816.0 451.2h.01M811.7 451.2h.01M815.4 450.4h.01M809.9 451.0h.01M818.3 452.4h.01M815.7 449.2h.01M821.1 447.8h.01M818.6 447.9h.01M813.4 452.7h.01M814.2 452.9h.01M818.7 451.3h.01M817.9 451.7h.01M820.3 451.3h.01M807.6 452.8h.01M809.7 454.1h.01M820.7 447.8h.01M814.9 449.3h.01M822.6 448.6h.01M820.5 449.5h.01M817.1 450.6h.01M818.4 447.7h.01M819.8 444.7h.01M822.4 450.0h.01M815.2 449.3h.01M811.6 452.4h.01M817.6 451.1h.01M820.2 448.3h.01M814.2 447.8h.01M818.8 453.0h.01M816.5 451.0h.01M816.2 454.1h.01M817.7 452.4h.01M820.3 446.6h.01M809.3 450.3h.01M818.2 448.8h.01M819.0 448.9h.01M816.5 448.1h.01M816.5 454.7h.01M819.7 449.0h.01M814.1 451.5h.01M816.9 451.0h.01M816.2 445.9h.01M819.0 449.9h.01M818.9 448.6h.01M817.6 448.5h.01M815.9 452.0h.01M815.2 451.5h.01M823.3 451.0h.01M812.2 454.1h.01M815.2 450.7h.01M828.1 447.8h.01M820.8 450.8h.01M819.0 449.8h.01M818.1 447.6h.01M821.1 442.9h.01M818.7 445.9h.01M818.2 443.9h.01M822.5 447.0h.01M815.1 446.3h.01M820.7 445.5h.01M819.4 446.4h.01M817.8 446.6h.01M820.4 447.6h.01M819.1 445.9h.01M818.6 447.0h.01M816.2 444.5h.01M823.3 443.3h.01M820.1 447.4h.01M821.0 447.8h.01M821.6 446.0h.01M820.5 444.2h.01M821.2 445.9h.01M821.8 447.4h.01M821.7 448.6h.01M822.3 446.6h.01M820.6 449.4h.01M820.9 445.3h.01M821.1 447.2h.01M819.2 446.0h.01M821.5 446.4h.01M824.7 446.6h.01M818.8 447.9h.01M817.8 446.8h.01M819.2 446.0h.01M821.0 445.8h.01M819.0 446.1h.01M818.5 444.8h.01M817.0 447.1h.01M819.1 446.2h.01M822.1 444.7h.01M821.7 446.1h.01M821.6 445.3h.01M816.6 445.7h.01M824.4 444.0h.01M821.2 446.3h.01M820.5 446.2h.01M822.0 445.1h.01M820.9 445.2h.01M819.2 446.6h.01M818.6 447.7h.01M818.2 446.7h.01M816.4 445.1h.01M826.1 446.4h.01M818.7 447.6h.01M819.8 447.0h.01M818.4 446.6h.01M822.8 446.7h.01M820.3 445.4h.01M814.1 445.8h.01M818.6 447.6h.01M816.6 446.1h.01M819.1 444.8h.01M822.8 446.1h.01M797.6 447.6h.01M800.7 447.1h.01M790.5 450.0h.01M796.8 447.6h.01M791.5 447.2h.01M796.0 448.2h.01M792.2 448.2h.01M794.3 447.8h.01M794.9 447.3h.01M791.5 448.4h.01M798.8 447.6h.01M791.8 448.9h.01M803.3 448.5h.01M799.4 449.5h.01M807.0 447.5h.01M809.1 446.8h.01M794.5 450.3h.01M789.6 448.4h.01M798.7 448.8h.01M794.4 447.9h.01M804.9 446.7h.01M796.9 446.3h.01M802.4 447.0h.01M792.1 449.1h.01M805.2 446.3h.01M793.4 445.2h.01M798.0 446.9h.01M797.5 447.9h.01M797.5 446.1h.01M792.6 448.2h.01M800.4 447.4h.01M803.3 446.4h.01M800.1 446.0h.01M799.9 448.6h.01M795.9 448.4h.01M797.1 448.9h.01M799.7 447.0h.01M793.1 447.3h.01M794.6 448.5h.01M789.9 448.8h.01M794.3 447.6h.01M801.0 446.4h.01M797.8 447.8h.01M806.4 450.6h.01M787.7 451.3h.01M801.0 447.1h.01M797.1 446.8h.01M794.3 447.3h.01M788.7 447.8h.01M795.3 448.0h.01M799.9 445.6h.01M793.4 447.6h.01M802.9 447.0h.01M793.8 446.5h.01M795.8 448.8h.01M800.3 448.0h.01M792.3 447.6h.01M793.7 447.7h.01M803.8 450.2h.01M793.6 446.7h.01M799.6 445.6h.01M798.0 446.9h.01M800.8 447.6h.01M788.0 446.9h.01M792.5 447.1h.01M790.5 448.0h.01M794.4 447.6h.01M798.5 447.8h.01M802.9 448.1h.01M800.9 445.8h.01M797.0 447.6h.01M790.5 446.3h.01M792.4 448.8h.01M796.7 448.0h.01M794.4 448.8h.01M800.0 448.4h.01M796.6 450.2h.01M802.1 445.8h.01M794.7 446.0h.01M796.2 449.2h.01M794.8 446.8h.01M800.3 447.4h.01M790.0 448.9h.01M791.9 448.5h.01M798.1 449.4h.01M788.4 446.9h.01M790.9 446.9h.01M799.0 449.1h.01M778.9 447.5h.01M802.5 447.6h.01M797.2 448.4h.01M790.0 447.4h.01M802.8 449.1h.01M788.2 449.3h.01M799.1 448.3h.01M798.1 448.6h.01M805.1 445.4h.01M797.6 446.1h.01M797.3 447.2h.01M787.8 447.7h.01M797.8 448.7h.01M794.4 447.4h.01M788.1 447.9h.01M793.3 447.2h.01M800.8 447.5h.01M799.1 447.8h.01M800.8 446.6h.01M798.7 446.2h.01M791.7 446.1h.01M799.4 447.5h.01M788.0 449.4h.01M788.4 449.7h.01M784.5 450.9h.01M791.4 448.0h.01M792.1 449.3h.01M790.8 448.4h.01M791.2 450.3h.01M788.5 448.5h.01M790.6 447.3h.01M791.8 450.0h.01M787.8 447.5h.01M790.5 449.1h.01M787.7 450.4h.01M789.7 448.8h.01M794.2 448.5h.01M789.7 451.0h.01M792.9 451.3h.01M785.5 449.6h.01M788.1 450.2h.01M787.0 448.9h.01M784.0 447.3h.01M787.2 450.0h.01M786.7 449.6h.01M785.0 447.9h.01M789.0 448.6h.01M791.4 447.7h.01M790.4 448.3h.01M787.7 447.6h.01M789.0 449.0h.01M791.6 450.1h.01M791.8 448.0h.01M785.1 449.0h.01M790.7 448.4h.01M790.1 449.3h.01M791.3 450.0h.01M794.0 450.5h.01M786.1 453.0h.01M789.5 449.5h.01M789.6 449.2h.01M790.4 448.9h.01M784.4 451.7h.01M787.5 449.7h.01M784.5 450.5h.01M789.9 450.6h.01M788.5 450.4h.01M788.5 450.1h.01M785.8 448.6h.01M787.3 449.5h.01M788.5 450.7h.01M785.3 448.5h.01M790.7 448.0h.01M789.9 449.6h.01M789.7 448.9h.01M789.1 449.1h.01M792.2 451.8h.01M789.2 447.8h.01M786.9 450.5h.01M789.3 449.9h.01M789.3 450.1h.01M782.0 449.3h.01M805.8 427.6h.01M754.2 445.4h.01M831.6 446.6h.01M829.2 449.2h.01M783.0 450.0h.01"/>
<path stroke="#7510ff" d="M732.9 80.1h.01M724.8 67.8h.01M843.4 282.7h.01M835.2 290.1h.01M719.1 294.3h.01M828.5 229.0h.01M734.8 74.9h.01M821.1 296.4h.01M707.6 64.5h.01"/>
<path stroke="#6628fe" d="M683.8 97.8h.01M715.8 69.5h.01M715.0 103.2h.01M824.1 299.0h.01M828.7 228.4h.01M713.8 59.9h.01M723.8 282.6h.01"/>
<path stroke="#1996f3" d="M846.8 227.4h.01M691.3 227.3h.01M697.9 218.3h.01M823.7 300.5h.01M720.5 92.3h.01M683.7 83.3h.01M820.6 236.2h.01M819.9 293.6h.01M815.3 236.6h.01M691.7 228.5h.01M721.5 108.4h.01M695.3 225.9h.01M718.2 84.1h.01M725.6 278.1h.01"/>
<path stroke="#00b4ec" d="M824.4 232.0h.01M722.5 89.2h.01M686.1 235.7h.01M713.4 87.9h.01M822.6 296.0h.01M720.8 297.9h.01M813.9 234.7h.01M688.0 237.4h.01M717.9 292.1h.01M692.9 82.2h.01M828.3 231.4h.01M716.7 293.6h.01"/>
<path stroke="#2489f5" d="M715.9 98.4h.01M713.4 294.5h.01M718.1 295.3h.01M824.8 297.4h.01M715.2 296.7h.01M828.5 233.9h.01M688.9 232.8h.01"/>
<path stroke="#0fc4e7" d="M690.2 89.1h.01M823.7 289.8h.01M832.6 230.0h.01"/>
<path stroke="#0fa3f0" d="M833.1 295.8h.01M683.4 231.5h.01M839.2 294.3h.01"/>
<path stroke="#19cee3" d="M716.9 76.8h.01M725.6 275.3h.01M683.2 87.3h.01M827.9 233.6h.01M717.7 84.9h.01M688.5 78.0h.01"/>
<path stroke="#38e7d7" d="M714.0 290.2h.01M714.9 89.8h.01"/>
<path stroke="#33e3d9" d="M854.6 265.1h.01M727.8 279.1h.01M721.8 293.3h.01"/>
<path stroke="#4df3ce" d="M717.5 291.8h.01M711.0 82.8h.01"/>
<path stroke="#29dbde" d="M831.5 227.5h.01M688.9 74.1h.01"/>
<path stroke="#29dbde" d="M832.5 232.7h.01M825.9 290.2h.01M815.3 233.8h.01M822.8 229.4h.01M829.6 292.1h.01M832.5 298.4h.01"/>
<path stroke="#19cee3" d="M711.2 289.7h.01M848.0 224.3h.01M713.8 86.8h.01M734.9 266.6h.01M689.5 227.4h.01"/>
<path stroke="#1996f3" d="M712.7 294.7h.01M688.0 92.2h.01M691.4 231.6h.01"/>
<path stroke="#4df3ce" d="M720.2 62.6h.01M837.7 225.9h.01M691.0 231.6h.01M829.8 228.6h.01M720.3 65.8h.01M686.0 235.1h.01M817.6 296.2h.01M726.2 281.8h.01M712.9 81.3h.01M814.6 291.6h.01M824.2 293.8h.01"/>
<path stroke="#00b4ec" d="M692.6 89.6h.01M724.7 282.2h.01M685.5 228.5h.01M695.4 213.8h.01M716.6 89.7h.01M688.3 72.4h.01M823.7 299.9h.01M715.5 78.6h.01M689.1 84.0h.01M827.6 268.0h.01M843.0 288.1h.01M716.5 294.4h.01M713.6 67.9h.01"/>
<path stroke="#66fcc2" d="M836.5 286.7h.01M687.3 230.6h.01M717.4 77.7h.01M833.8 228.2h.01M686.6 227.2h.01M825.7 289.0h.01"/>
<path stroke="#7510ff" d="M690.9 88.8h.01M734.8 83.4h.01M735.7 84.0h.01M735.8 268.5h.01"/>
<path stroke="#38e7d7" d="M713.6 72.7h.01M710.1 288.6h.01M740.1 264.7h.01M677.1 62.7h.01"/>
<path stroke="#0fc4e7" d="M686.0 87.9h.01M832.3 228.7h.01M688.4 84.1h.01M690.0 81.6h.01"/>
<path stroke="#0fa3f0" d="M710.5 84.5h.01M717.7 88.6h.01M819.7 227.3h.01"/>
<path stroke="#6628fe" d="M832.7 223.3h.01M723.1 91.6h.01M688.0 237.7h.01M818.8 232.7h.01M716.4 294.0h.01"/>
<path stroke="#80ffb4" d="M718.3 293.2h.01M688.9 233.6h.01M715.9 78.2h.01"/>
<path stroke="#2489f5" d="M691.3 224.7h.01"/>
<path stroke="#99fca6" d="M711.8 291.0h.01"/>
<path stroke="#33e3d9" d="M829.4 290.9h.01"/>
<path stroke="#00b4ec" d="M829.7 227.0h.01M689.3 89.0h.01M711.2 294.6h.01M831.5 298.4h.01M826.3 296.3h.01M685.7 86.0h.01M693.4 225.0h.01M820.2 233.1h.01M716.7 82.2h.01"/>
<path stroke="#1996f3" d="M827.7 291.4h.01M684.3 235.9h.01M690.7 228.1h.01M691.0 84.9h.01M718.5 87.9h.01M682.5 72.9h.01M713.0 85.5h.01"/>
<path stroke="#38e7d7" d="M838.0 236.8h.01M832.3 294.6h.01M828.7 296.6h.01M830.3 231.9h.01"/>
<path stroke="#0fc4e7" d="M829.3 293.3h.01M708.1 208.7h.01M717.2 295.0h.01"/>
<path stroke="#33e3d9" d="M684.2 90.8h.01"/>
<path stroke="#19cee3" d="M829.0 294.3h.01M713.9 292.3h.01M714.4 290.7h.01M830.7 228.9h.01M684.1 229.9h.01M827.8 240.0h.01M827.9 232.8h.01"/>
<path stroke="#4df3ce" d="M716.2 84.2h.01M832.9 222.6h.01M684.1 81.3h.01M822.2 227.0h.01M828.0 230.5h.01M824.7 292.6h.01"/>
<path stroke="#2489f5" d="M707.0 295.7h.01M835.5 296.0h.01M715.9 81.0h.01"/>
<path stroke="#66fcc2" d="M686.5 83.8h.01M716.0 80.7h.01M823.7 295.3h.01"/>
<path stroke="#6628fe" d="M721.8 83.3h.01M727.3 277.6h.01M689.1 230.4h.01M836.1 267.4h.01"/>
<path stroke="#80ffb4" d="M687.9 82.2h.01M711.9 289.8h.01M692.0 83.5h.01M716.6 292.8h.01M685.1 63.8h.01M688.1 83.3h.01"/>
<path stroke="#99fca6" d="M851.9 226.5h.01M725.0 278.6h.01M817.8 278.7h.01M688.5 84.1h.01"/>
<path stroke="#29dbde" d="M830.1 294.1h.01M832.8 228.4h.01M820.8 294.8h.01"/>
<path stroke="#0fa3f0" d="M723.5 83.4h.01M726.2 293.7h.01"/>
<path stroke="#7510ff" d="M827.5 294.3h.01"/>
<path stroke="#b2f396" d="M687.3 228.6h.01"/>
<path stroke="#dbd77b" d="M688.6 228.5h.01"/>
<path stroke="#f0c46d" d="M821.6 227.9h.01M684.3 232.6h.01M825.9 230.5h.01M691.0 221.2h.01"/>
<path stroke="#e5ce74" d="M821.9 227.0h.01"/>
<path stroke="#33e3d9" d="M836.0 273.9h.01"/>
<path stroke="#80ffb4" d="M833.5 226.5h.01M717.1 82.8h.01M685.6 230.8h.01M716.5 297.3h.01"/>
<path stroke="#00b4ec" d="M714.8 291.4h.01M715.4 301.2h.01M725.8 294.5h.01M712.1 290.4h.01M695.3 63.0h.01M719.1 88.2h.01M717.8 289.3h.01M827.4 301.1h.01"/>
<path stroke="#1996f3" d="M713.5 292.9h.01M688.3 85.0h.01M814.7 234.5h.01M714.4 85.9h.01"/>
<path stroke="#38e7d7" d="M827.8 226.9h.01M680.4 231.6h.01"/>
<path stroke="#66fcc2" d="M829.5 234.6h.01M690.1 83.0h.01M817.8 296.6h.01M686.5 80.5h.01M843.9 226.4h.01M682.4 234.7h.01"/>
<path stroke="#29dbde" d="M727.5 299.3h.01M688.6 229.7h.01"/>
<path stroke="#faba65" d="M815.7 229.6h.01M687.9 93.4h.01M690.8 226.0h.01"/>
<path stroke="#4df3ce" d="M821.8 225.5h.01M684.4 231.3h.01M820.5 227.8h.01"/>
<path stroke="#99fca6" d="M805.4 222.1h.01M689.5 72.9h.01M836.4 268.6h.01"/>
<path stroke="#2489f5" d="M690.9 79.0h.01M832.9 291.7h.01M829.7 300.4h.01"/>
<path stroke="#f0c46d" d="M834.4 266.9h.01M686.6 227.5h.01M688.6 96.7h.01"/>
<path stroke="#b2f396" d="M819.2 233.5h.01M688.8 78.9h.01"/>
<path stroke="#19cee3" d="M716.3 81.3h.01M825.5 295.9h.01M683.6 86.0h.01M716.6 291.3h.01"/>
<path stroke="#dbd77b" d="M818.5 230.9h.01M814.4 227.6h.01M686.2 232.9h.01M828.3 265.5h.01M686.8 89.5h.01"/>
<path stroke="#7510ff" d="M688.6 93.5h.01M855.2 289.1h.01"/>
<path stroke="#e5ce74" d="M679.2 239.0h.01M710.2 84.3h.01M826.0 229.6h.01M684.5 233.8h.01M687.8 229.2h.01M824.5 229.9h.01"/>
<path stroke="#ffb462" d="M690.9 86.2h.01M831.5 268.1h.01M688.9 94.0h.01"/>
<path stroke="#0fa3f0" d="M719.0 91.2h.01"/>
<path stroke="#ffa356" d="M687.2 93.0h.01M818.2 228.3h.01"/>
<path stroke="#ffaf5e" d="M686.9 91.5h.01M732.7 80.0h.01"/>
<path stroke="#6628fe" d="M825.3 292.1h.01"/>
<path stroke="#99fca6" d="M841.0 227.7h.01M681.4 237.6h.01"/>
<path stroke="#00b4ec" d="M720.8 85.0h.01M688.6 64.5h.01M689.0 83.5h.01M813.9 238.9h.01M684.8 85.9h.01"/>
<path stroke="#b2f396" d="M716.4 295.2h.01M847.7 279.8h.01M684.4 88.1h.01M687.1 226.4h.01"/>
<path stroke="#ff964f" d="M688.3 89.8h.01M823.9 230.9h.01M735.4 268.5h.01M822.8 229.9h.01M695.1 223.8h.01M686.2 231.5h.01M736.3 66.1h.01"/>
<path stroke="#ffa356" d="M686.3 85.2h.01M723.4 296.4h.01M682.9 85.8h.01M734.3 86.1h.01M737.4 86.3h.01M860.0 266.2h.01"/>
<path stroke="#ff8947" d="M687.7 89.4h.01M820.2 227.1h.01M686.7 85.8h.01M737.9 264.9h.01"/>
<path stroke="#80ffb4" d="M825.5 295.3h.01M717.5 76.8h.01M689.4 232.8h.01"/>
<path stroke="#4df3ce" d="M737.2 69.8h.01M831.6 292.0h.01M821.1 230.0h.01"/>
<path stroke="#19cee3" d="M720.0 87.3h.01M689.9 88.7h.01M718.1 291.0h.01M687.3 85.3h.01M712.6 89.5h.01M816.8 234.0h.01M825.1 233.8h.01"/>
<path stroke="#0fa3f0" d="M690.8 228.5h.01M689.7 82.8h.01M832.9 223.3h.01"/>
<path stroke="#0fc4e7" d="M715.9 292.9h.01M826.6 233.6h.01M829.0 292.9h.01M831.4 229.6h.01"/>
<path stroke="#66fcc2" d="M690.1 82.8h.01M686.5 78.5h.01M825.0 296.5h.01M717.0 294.6h.01"/>
<path stroke="#e5ce74" d="M739.9 66.5h.01M683.3 94.8h.01"/>
<path stroke="#7510ff" d="M834.4 268.0h.01M733.3 77.2h.01M821.7 233.7h.01"/>
<path stroke="#ffb462" d="M687.7 91.6h.01M814.9 231.0h.01"/>
<path stroke="#6628fe" d="M839.3 283.2h.01"/>
<path stroke="#faba65" d="M688.9 230.2h.01M685.1 227.5h.01M685.5 83.2h.01"/>
<path stroke="#ffaf5e" d="M826.0 268.0h.01"/>
<path stroke="#dbd77b" d="M686.1 232.2h.01"/>
<path stroke="#f0c46d" d="M833.4 268.4h.01"/>
<path stroke="#1996f3" d="M697.6 214.7h.01M683.4 232.9h.01"/>
<path stroke="#38e7d7" d="M688.2 83.6h.01M702.6 219.1h.01"/>
<path stroke="#1996f3" d="M716.3 80.1h.01M810.9 234.9h.01M736.4 79.8h.01M687.1 81.6h.01M717.2 83.6h.01"/>
<path stroke="#0fa3f0" d="M723.5 298.1h.01M686.0 229.0h.01"/>
<path stroke="#dbd77b" d="M686.3 91.8h.01M685.4 90.8h.01M684.4 87.4h.01"/>
<path stroke="#19cee3" d="M683.6 232.1h.01"/>
<path stroke="#e5ce74" d="M686.4 96.9h.01M822.2 230.0h.01M692.0 86.5h.01M713.3 293.5h.01M824.7 230.8h.01"/>
<path stroke="#ff743c" d="M818.0 231.5h.01M822.1 226.9h.01M738.7 76.5h.01M839.3 268.2h.01M691.7 89.7h.01"/>
<path stroke="#4df3ce" d="M849.5 239.8h.01M723.6 291.3h.01M828.8 291.5h.01M720.0 91.8h.01"/>
<path stroke="#ff964f" d="M831.8 265.8h.01M814.8 228.7h.01M853.9 287.8h.01M834.7 268.7h.01M825.6 227.0h.01M722.9 93.6h.01M685.8 84.9h.01M689.9 76.8h.01M686.2 229.9h.01M688.0 230.1h.01"/>
<path stroke="#ffaf5e" d="M855.8 264.8h.01M685.8 84.5h.01M715.7 83.0h.01M689.0 85.6h.01"/>
<path stroke="#f0c46d" d="M692.9 83.6h.01M686.7 85.9h.01"/>
<path stroke="#00b4ec" d="M714.2 290.2h.01M816.1 236.4h.01M722.4 80.2h.01M821.3 293.7h.01"/>
<path stroke="#66fcc2" d="M830.8 224.3h.01"/>
<path stroke="#ffb462" d="M734.3 84.1h.01M822.7 297.3h.01M699.5 219.5h.01"/>
<path stroke="#ff4f28" d="M815.4 231.6h.01M684.1 84.7h.01M685.6 233.4h.01M687.3 95.6h.01M689.0 91.0h.01"/>
<path stroke="#0fc4e7" d="M828.6 297.6h.01"/>
<path stroke="#2489f5" d="M681.6 231.4h.01"/>
<path stroke="#7510ff" d="M736.4 85.9h.01M710.7 91.7h.01M828.6 227.3h.01"/>
<path stroke="#38e7d7" d="M686.7 85.4h.01"/>
<path stroke="#6628fe" d="M823.2 235.1h.01"/>
<path stroke="#ff8947" d="M716.6 292.2h.01M691.0 228.9h.01M685.8 87.5h.01M736.3 265.9h.01"/>
<path stroke="#80ffb4" d="M856.9 225.7h.01M830.1 291.3h.01"/>
<path stroke="#faba65" d="M690.3 226.4h.01"/>
<path stroke="#ffa356" d="M688.7 87.7h.01"/>
<path stroke="#33e3d9" d="M718.0 85.2h.01"/>
<path stroke="#4df3ce" d="M711.5 295.6h.01M815.1 229.1h.01M718.4 291.2h.01"/>
<path stroke="#ffa356" d="M825.4 230.0h.01"/>
<path stroke="#19cee3" d="M715.5 86.6h.01M689.5 226.7h.01M694.1 226.4h.01M692.0 222.2h.01M684.7 81.6h.01"/>
<path stroke="#7510ff" d="M687.0 229.6h.01M819.5 237.7h.01M812.5 238.3h.01M741.1 70.3h.01"/>
<path stroke="#ffaf5e" d="M686.0 233.2h.01M823.8 231.3h.01M824.3 226.3h.01M821.2 225.8h.01"/>
<path stroke="#ffb462" d="M815.1 227.0h.01M811.5 230.6h.01M684.4 231.2h.01M825.1 230.9h.01M737.7 83.2h.01M691.0 227.2h.01M686.5 91.1h.01M835.3 267.0h.01"/>
<path stroke="#99fca6" d="M690.1 84.3h.01"/>
<path stroke="#66fcc2" d="M817.1 229.8h.01M687.6 86.9h.01M688.8 77.3h.01M836.8 224.4h.01M823.9 232.8h.01M685.6 77.3h.01M683.0 233.8h.01M687.3 228.1h.01"/>
<path stroke="#6628fe" d="M718.8 87.7h.01"/>
<path stroke="#80ffb4" d="M689.1 90.2h.01M686.2 232.9h.01"/>
<path stroke="#33e3d9" d="M720.4 97.9h.01M688.5 226.3h.01M689.4 94.4h.01"/>
<path stroke="#ff743c" d="M818.7 226.3h.01M683.8 92.9h.01"/>
<path stroke="#0fa3f0" d="M821.1 293.4h.01M842.6 232.3h.01M721.5 295.0h.01"/>
<path stroke="#0fc4e7" d="M687.6 91.4h.01"/>
<path stroke="#ff964f" d="M688.0 92.0h.01M689.8 229.2h.01M833.6 293.8h.01M688.0 228.8h.01M834.5 266.1h.01M831.1 290.7h.01"/>
<path stroke="#dbd77b" d="M687.3 86.8h.01M819.8 228.9h.01M820.0 227.7h.01M684.4 96.7h.01"/>
<path stroke="#faba65" d="M685.4 88.9h.01M687.2 84.4h.01M691.2 224.8h.01M716.0 92.0h.01M830.7 295.9h.01"/>
<path stroke="#29dbde" d="M692.0 224.7h.01"/>
<path stroke="#e5ce74" d="M684.5 87.3h.01"/>
<path stroke="#ff4f28" d="M684.5 233.3h.01M713.3 292.3h.01"/>
<path stroke="#00b4ec" d="M820.3 267.6h.01M724.4 76.9h.01M825.6 298.0h.01"/>
<path stroke="#ff8947" d="M821.2 228.6h.01"/>
<path stroke="#1996f3" d="M726.1 279.9h.01"/>
<path stroke="#ff8947" d="M825.0 228.6h.01M687.0 82.5h.01M731.8 267.4h.01M689.6 226.6h.01M817.5 231.5h.01"/>
<path stroke="#1996f3" d="M691.5 227.6h.01M722.8 70.6h.01M720.5 293.6h.01M685.7 75.1h.01M714.0 297.1h.01M738.5 89.4h.01"/>
<path stroke="#ffb462" d="M685.1 230.6h.01M731.5 87.1h.01"/>
<path stroke="#2489f5" d="M716.2 84.2h.01M713.2 89.3h.01"/>
<path stroke="#ffa356" d="M735.7 78.4h.01M687.4 229.1h.01M821.4 294.4h.01M689.1 95.7h.01"/>
<path stroke="#ffaf5e" d="M686.6 227.8h.01M739.0 82.4h.01M732.3 269.8h.01"/>
<path stroke="#00b4ec" d="M711.7 297.2h.01M686.0 227.4h.01M720.7 80.7h.01M825.7 298.7h.01"/>
<path stroke="#80ffb4" d="M821.4 292.6h.01M832.4 227.8h.01M713.9 79.7h.01M853.2 225.1h.01"/>
<path stroke="#4df3ce" d="M685.8 232.5h.01M827.3 291.7h.01"/>
<path stroke="#7510ff" d="M825.9 300.9h.01M723.6 108.4h.01"/>
<path stroke="#ff964f" d="M683.7 81.0h.01M687.1 232.7h.01M735.3 78.3h.01M822.4 223.5h.01M691.6 88.8h.01"/>
<path stroke="#6628fe" d="M823.5 297.5h.01M715.8 81.3h.01M816.9 236.0h.01"/>
<path stroke="#ff743c" d="M686.0 87.9h.01M732.6 270.4h.01"/>
<path stroke="#66fcc2" d="M831.2 232.7h.01M690.9 81.9h.01M718.4 292.6h.01M824.1 229.8h.01"/>
<path stroke="#dbd77b" d="M732.4 267.6h.01M690.4 226.4h.01M718.0 298.9h.01"/>
<path stroke="#19cee3" d="M712.6 295.5h.01M718.7 88.4h.01"/>
<path stroke="#99fca6" d="M714.2 286.0h.01"/>
<path stroke="#e5ce74" d="M690.3 92.2h.01M820.9 297.4h.01M688.0 93.8h.01"/>
<path stroke="#b2f396" d="M682.8 234.6h.01"/>
<path stroke="#ff4f28" d="M732.1 266.2h.01M686.2 225.7h.01"/>
<path stroke="#f0c46d" d="M822.8 226.8h.01M695.6 220.4h.01M818.7 228.7h.01"/>
<path stroke="#0fc4e7" d="M716.3 89.4h.01M828.0 227.8h.01M681.9 87.7h.01M828.4 296.5h.01"/>
<path stroke="#29dbde" d="M837.1 235.0h.01M709.8 86.9h.01"/>
<path stroke="#33e3d9" d="M856.5 267.8h.01"/>
<path stroke="#e5ce74" d="M816.3 229.1h.01M807.4 277.6h.01"/>
<path stroke="#1996f3" d="M723.9 293.5h.01M690.9 228.6h.01M828.7 300.2h.01"/>
<path stroke="#ff4f28" d="M736.7 266.7h.01M689.5 228.8h.01M833.5 294.3h.01M823.0 229.7h.01"/>
<path stroke="#19cee3" d="M722.8 298.2h.01M825.3 295.1h.01M828.5 291.8h.01M686.4 58.8h.01M710.1 89.3h.01"/>
<path stroke="#0fa3f0" d="M817.4 301.9h.01M718.7 69.1h.01"/>
<path stroke="#38e7d7" d="M716.4 294.7h.01M824.1 296.2h.01"/>
<path stroke="#faba65" d="M683.7 231.8h.01M738.2 265.9h.01M686.8 231.1h.01"/>
<path stroke="#ff964f" d="M688.3 74.5h.01M685.3 230.0h.01M688.7 230.0h.01M686.0 95.2h.01M825.2 268.2h.01M686.0 229.8h.01M693.3 225.0h.01M826.9 299.4h.01M690.3 94.1h.01"/>
<path stroke="#80ffb4" d="M728.0 274.8h.01M827.5 228.1h.01M736.9 86.1h.01M830.6 298.4h.01M822.5 230.1h.01"/>
<path stroke="#f0c46d" d="M832.6 270.6h.01M739.3 268.1h.01M816.9 226.4h.01"/>
<path stroke="#99fca6" d="M685.0 84.7h.01M686.8 83.9h.01"/>
<path stroke="#ffa356" d="M688.8 90.9h.01M736.5 267.4h.01M826.6 297.4h.01"/>
<path stroke="#ffb462" d="M819.4 286.6h.01M694.2 87.9h.01M820.5 230.3h.01M721.4 95.8h.01M689.3 235.6h.01"/>
<path stroke="#ffaf5e" d="M710.2 301.5h.01M689.6 95.0h.01M686.7 92.7h.01M693.5 95.0h.01"/>
<path stroke="#2489f5" d="M721.1 295.9h.01M714.4 78.0h.01"/>
<path stroke="#00b4ec" d="M821.9 230.0h.01M827.9 296.3h.01"/>
<path stroke="#33e3d9" d="M828.2 280.1h.01M717.2 294.1h.01M846.5 269.3h.01"/>
<path stroke="#66fcc2" d="M685.5 83.4h.01M693.0 228.1h.01M684.1 87.5h.01M823.6 293.4h.01M823.8 296.9h.01"/>
<path stroke="#6628fe" d="M718.5 70.1h.01"/>
<path stroke="#ff743c" d="M688.3 230.6h.01M713.7 290.4h.01"/>
<path stroke="#4df3ce" d="M824.9 293.7h.01"/>
<path stroke="#dbd77b" d="M818.9 230.2h.01"/>
<path stroke="#29dbde" d="M685.6 235.3h.01"/>
<path stroke="#7510ff" d="M695.3 92.4h.01M811.2 236.3h.01M734.7 72.5h.01"/>
<path stroke="#dbd77b" d="M696.3 84.4h.01M687.2 233.4h.01"/>
<path stroke="#ff743c" d="M683.2 92.1h.01M687.8 84.2h.01M689.2 94.3h.01"/>
<path stroke="#29dbde" d="M690.2 223.6h.01"/>
<path stroke="#2489f5" d="M828.3 230.3h.01M714.2 79.1h.01"/>
<path stroke="#80ffb4" d="M831.8 230.0h.01M720.9 294.9h.01M825.2 224.5h.01M687.6 81.6h.01M827.1 234.9h.01M691.8 76.2h.01M693.2 226.9h.01M713.9 94.2h.01"/>
<path stroke="#99fca6" d="M822.0 227.9h.01"/>
<path stroke="#ffa356" d="M824.2 266.9h.01M736.9 90.3h.01M684.4 87.3h.01M814.5 225.1h.01"/>
<path stroke="#ffb462" d="M692.9 226.5h.01M735.9 83.8h.01M680.4 233.0h.01M685.7 232.6h.01M816.2 231.2h.01M733.0 77.6h.01"/>
<path stroke="#ff8947" d="M688.6 230.3h.01M697.1 227.4h.01"/>
<path stroke="#19cee3" d="M824.6 294.3h.01M687.7 228.5h.01M822.4 291.1h.01M689.0 83.0h.01M732.6 69.6h.01M821.9 300.4h.01"/>
<path stroke="#faba65" d="M692.4 227.3h.01M823.5 227.5h.01M684.2 92.0h.01M692.6 227.3h.01"/>
<path stroke="#66fcc2" d="M820.8 227.9h.01M831.5 297.2h.01"/>
<path stroke="#f0c46d" d="M817.4 226.3h.01M685.5 234.7h.01M723.0 296.0h.01"/>
<path stroke="#ff5e30" d="M735.9 266.1h.01"/>
<path stroke="#e5ce74" d="M837.3 265.8h.01M692.7 227.1h.01"/>
<path stroke="#33e3d9" d="M734.5 67.6h.01M820.3 233.8h.01"/>
<path stroke="#1996f3" d="M719.9 82.1h.01M718.8 297.5h.01"/>
<path stroke="#0fa3f0" d="M682.4 242.7h.01M713.3 91.0h.01"/>
<path stroke="#00b4ec" d="M719.3 77.0h.01M716.0 85.4h.01M829.9 231.2h.01M718.9 67.3h.01M719.8 291.4h.01"/>
<path stroke="#ffaf5e" d="M821.0 231.2h.01M849.3 265.0h.01"/>
<path stroke="#ff964f" d="M735.4 269.3h.01"/>
<path stroke="#0fc4e7" d="M819.0 232.3h.01M822.8 295.7h.01"/>
<path stroke="#ff4f28" d="M691.2 84.9h.01M692.1 88.5h.01"/>
<path stroke="#4df3ce" d="M721.2 87.2h.01"/>
<path stroke="#6628fe" d="M828.4 231.1h.01"/>
<path stroke="#ff8947" d="M681.8 238.0h.01M824.9 230.5h.01M685.5 85.3h.01"/>
<path stroke="#00b4ec" d="M713.2 292.5h.01M828.8 292.6h.01M831.1 288.3h.01M822.5 300.5h.01M826.1 267.5h.01"/>
<path stroke="#ffa356" d="M687.1 89.0h.01M822.9 227.6h.01M690.4 227.3h.01"/>
<path stroke="#f0c46d" d="M732.6 268.4h.01M690.3 81.5h.01M715.5 301.5h.01M822.2 230.5h.01"/>
<path stroke="#19cee3" d="M731.9 77.3h.01M681.1 236.3h.01M821.0 292.6h.01M832.9 227.2h.01"/>
<path stroke="#4df3ce" d="M821.6 228.2h.01M715.4 294.1h.01M827.0 228.9h.01M728.5 277.3h.01M834.6 233.9h.01"/>
<path stroke="#ffb462" d="M812.0 291.0h.01M691.0 88.5h.01M831.4 233.1h.01M823.1 228.6h.01M686.0 92.3h.01M826.5 231.7h.01M694.1 89.5h.01M823.8 231.7h.01M845.0 283.8h.01M687.9 231.3h.01"/>
<path stroke="#ff964f" d="M851.5 266.6h.01M824.7 225.3h.01M687.5 90.5h.01"/>
<path stroke="#ff4f28" d="M825.6 226.0h.01M684.5 84.8h.01M696.7 221.9h.01M738.8 78.5h.01M685.5 235.1h.01"/>
<path stroke="#ff2814" d="M828.8 268.7h.01M832.5 264.2h.01"/>
<path stroke="#99fca6" d="M727.7 278.3h.01M827.2 231.6h.01M824.7 229.3h.01"/>
<path stroke="#ff743c" d="M685.4 82.0h.01M821.9 224.2h.01M818.0 230.3h.01"/>
<path stroke="#0fa3f0" d="M718.4 91.9h.01M718.3 84.3h.01"/>
<path stroke="#38e7d7" d="M688.9 230.7h.01M829.8 228.0h.01"/>
<path stroke="#ffaf5e" d="M821.3 222.9h.01M817.1 224.7h.01M823.8 230.2h.01M823.2 266.8h.01"/>
<path stroke="#80ffb4" d="M692.2 82.2h.01M829.1 294.9h.01"/>
<path stroke="#1996f3" d="M684.8 90.8h.01M822.2 291.6h.01M735.7 72.6h.01"/>
<path stroke="#66fcc2" d="M687.4 95.7h.01"/>
<path stroke="#2489f5" d="M718.1 73.2h.01M708.0 290.9h.01"/>
<path stroke="#7510ff" d="M820.6 236.8h.01"/>
<path stroke="#faba65" d="M688.7 227.9h.01"/>
<path stroke="#e5ce74" d="M692.3 227.4h.01M816.8 226.2h.01"/>
<path stroke="#38e7d7" d="M689.4 93.8h.01M830.4 291.3h.01M705.0 211.7h.01"/>
<path stroke="#f0c46d" d="M690.5 93.7h.01M685.2 85.5h.01M690.0 89.9h.01"/>
<path stroke="#80ffb4" d="M824.3 232.4h.01M722.0 293.5h.01M689.1 78.7h.01M734.2 82.6h.01M844.6 224.9h.01M833.5 228.3h.01M710.2 65.9h.01"/>
<path stroke="#ffb462" d="M718.9 96.7h.01M684.9 89.7h.01"/>
<path stroke="#4df3ce" d="M717.5 92.7h.01M823.2 299.2h.01M683.4 231.4h.01"/>
<path stroke="#ff964f" d="M826.3 296.4h.01M687.2 92.9h.01M687.0 90.5h.01"/>
<path stroke="#ff8947" d="M691.0 96.5h.01"/>
<path stroke="#29dbde" d="M716.7 85.9h.01M826.6 293.7h.01M831.1 229.7h.01"/>
<path stroke="#99fca6" d="M824.0 229.1h.01"/>
<path stroke="#33e3d9" d="M736.9 62.9h.01M686.8 86.9h.01M690.7 225.9h.01"/>
<path stroke="#2489f5" d="M822.9 228.0h.01"/>
<path stroke="#0fa3f0" d="M813.8 235.2h.01"/>
<path stroke="#faba65" d="M686.7 237.8h.01M691.9 226.9h.01M689.7 225.0h.01M691.8 228.2h.01"/>
<path stroke="#dbd77b" d="M736.6 267.1h.01M819.7 299.8h.01"/>
<path stroke="#00b4ec" d="M823.8 296.2h.01M721.6 92.5h.01M721.9 68.1h.01"/>
<path stroke="#ff4f28" d="M823.8 231.7h.01M690.3 228.5h.01"/>
<path stroke="#6628fe" d="M725.5 281.8h.01M827.8 295.3h.01"/>
<path stroke="#19cee3" d="M850.5 225.6h.01M822.6 295.2h.01M828.1 265.6h.01M823.3 296.4h.01M845.5 224.9h.01M823.0 232.0h.01"/>
<path stroke="#ffa356" d="M849.4 265.0h.01M817.8 230.6h.01M685.8 94.9h.01M687.8 85.7h.01M732.6 72.7h.01M820.6 225.4h.01"/>
<path stroke="#e5ce74" d="M686.5 234.2h.01M727.6 277.9h.01M714.2 95.1h.01M687.1 86.9h.01"/>
<path stroke="#b2f396" d="M838.1 268.3h.01M687.2 232.1h.01"/>
<path stroke="#ff743c" d="M819.0 231.8h.01"/>
<path stroke="#0fc4e7" d="M687.8 80.9h.01M683.3 229.0h.01"/>
<path stroke="#66fcc2" d="M692.4 94.0h.01M729.5 101.1h.01"/>
<path stroke="#ffaf5e" d="M692.3 226.8h.01"/>
<path stroke="#7510ff" d="M724.7 280.6h.01"/>
<path stroke="#1996f3" d="M823.4 294.4h.01"/>
<path stroke="#00b4ec" d="M687.2 225.5h.01M723.4 83.3h.01M825.1 233.5h.01M689.4 225.0h.01M715.4 291.6h.01M716.5 87.2h.01M713.8 290.2h.01"/>
<path stroke="#6628fe" d="M691.1 224.7h.01M820.8 232.1h.01"/>
<path stroke="#38e7d7" d="M718.5 293.4h.01"/>
<path stroke="#ff2814" d="M831.3 267.5h.01"/>
<path stroke="#2489f5" d="M826.0 291.5h.01M689.5 90.5h.01M717.1 290.2h.01M686.1 57.3h.01M817.6 232.2h.01"/>
<path stroke="#ff743c" d="M686.2 79.7h.01M734.1 267.7h.01"/>
<path stroke="#0fc4e7" d="M683.4 239.2h.01M719.0 89.0h.01M714.1 90.3h.01"/>
<path stroke="#0fa3f0" d="M694.8 221.8h.01M827.8 291.2h.01M824.8 292.7h.01"/>
<path stroke="#7510ff" d="M818.8 234.0h.01M829.2 229.6h.01M736.8 73.2h.01M733.1 76.5h.01"/>
<path stroke="#ffb462" d="M836.9 231.8h.01M715.4 91.6h.01M686.8 230.5h.01M733.5 265.6h.01M815.5 226.2h.01"/>
<path stroke="#80ffb4" d="M685.2 79.0h.01M716.4 85.6h.01M691.5 224.0h.01M715.4 86.1h.01M722.6 300.5h.01"/>
<path stroke="#ff964f" d="M686.9 85.8h.01M684.3 232.3h.01M689.4 228.1h.01M691.2 225.7h.01M687.7 232.8h.01"/>
<path stroke="#4df3ce" d="M823.7 227.2h.01M688.9 69.9h.01M687.5 88.5h.01"/>
<path stroke="#f0c46d" d="M827.0 230.1h.01M688.7 233.0h.01M685.8 87.9h.01M685.1 231.1h.01"/>
<path stroke="#99fca6" d="M688.3 224.8h.01"/>
<path stroke="#66fcc2" d="M820.9 235.5h.01M824.4 291.6h.01M680.8 230.4h.01M719.8 284.2h.01"/>
<path stroke="#1996f3" d="M813.2 234.2h.01M825.0 291.2h.01"/>
<path stroke="#e5ce74" d="M739.9 71.8h.01M843.2 264.1h.01M691.8 85.4h.01"/>
<path stroke="#ff4f28" d="M739.0 260.9h.01M684.7 90.4h.01M691.0 90.2h.01"/>
<path stroke="#b2f396" d="M720.8 297.8h.01"/>
<path stroke="#19cee3" d="M693.0 225.8h.01M716.2 291.5h.01"/>
<path stroke="#dbd77b" d="M740.1 262.3h.01"/>
<path stroke="#29dbde" d="M847.0 230.1h.01"/>
<path stroke="#ffa356" d="M854.1 266.2h.01"/>
<path stroke="#ffaf5e" d="M816.9 225.1h.01"/>
<path stroke="#66fcc2" d="M718.7 80.8h.01M821.1 228.2h.01M830.1 227.1h.01M826.2 230.1h.01M721.9 84.9h.01"/>
<path stroke="#29dbde" d="M827.7 293.9h.01"/>
<path stroke="#ff8947" d="M823.1 229.8h.01"/>
<path stroke="#4df3ce" d="M821.1 232.6h.01M821.5 224.7h.01"/>
<path stroke="#00b4ec" d="M822.4 297.3h.01M686.4 89.6h.01M689.3 79.7h.01M711.6 301.0h.01M817.1 228.4h.01M720.5 84.5h.01M828.7 225.0h.01"/>
<path stroke="#6628fe" d="M724.4 291.9h.01M832.5 234.5h.01M685.4 88.3h.01M842.4 281.0h.01"/>
<path stroke="#f0c46d" d="M679.4 85.9h.01M689.0 230.0h.01M687.8 90.3h.01"/>
<path stroke="#ffaf5e" d="M687.5 231.7h.01M687.1 87.1h.01M686.2 231.0h.01"/>
<path stroke="#1996f3" d="M835.7 299.0h.01M814.9 296.5h.01"/>
<path stroke="#ff4f28" d="M689.5 76.0h.01M689.7 87.7h.01M736.4 266.3h.01M823.7 287.6h.01"/>
<path stroke="#0fa3f0" d="M715.2 85.5h.01M717.8 293.7h.01"/>
<path stroke="#e5ce74" d="M719.2 87.3h.01M716.8 84.5h.01M812.9 230.2h.01M731.5 82.7h.01M822.4 224.2h.01"/>
<path stroke="#19cee3" d="M828.7 293.6h.01M713.8 87.6h.01M829.1 293.3h.01M829.1 228.0h.01M826.9 297.4h.01"/>
<path stroke="#2489f5" d="M820.4 296.5h.01M688.0 233.5h.01"/>
<path stroke="#ff964f" d="M736.2 264.8h.01M713.5 88.8h.01M728.8 268.4h.01M691.1 229.4h.01"/>
<path stroke="#b2f396" d="M688.9 91.0h.01"/>
<path stroke="#ffb462" d="M688.7 223.4h.01M810.0 274.8h.01"/>
<path stroke="#7510ff" d="M813.1 234.4h.01M684.6 232.5h.01M813.8 235.1h.01M715.4 87.6h.01"/>
<path stroke="#33e3d9" d="M815.5 224.2h.01"/>
<path stroke="#80ffb4" d="M817.0 232.8h.01M824.7 293.8h.01M828.0 275.0h.01"/>
<path stroke="#faba65" d="M834.3 267.0h.01M735.2 80.2h.01"/>
<path stroke="#38e7d7" d="M715.5 287.5h.01"/>
<path stroke="#ff743c" d="M719.9 295.7h.01M823.3 223.2h.01M816.9 265.7h.01"/>
<path stroke="#dbd77b" d="M732.1 268.5h.01M733.1 88.5h.01"/>
<path stroke="#99fca6" d="M825.4 230.7h.01"/>
<path stroke="#e5ce74" d="M825.0 231.7h.01M818.3 230.6h.01M717.0 289.3h.01M686.8 234.3h.01M811.8 290.2h.01M820.5 229.9h.01"/>
<path stroke="#ffaf5e" d="M687.3 231.2h.01M689.4 228.2h.01"/>
<path stroke="#00b4ec" d="M827.6 297.2h.01M685.9 66.7h.01M830.8 289.5h.01M714.3 83.0h.01M717.2 290.2h.01M713.5 91.3h.01M828.0 229.1h.01"/>
<path stroke="#faba65" d="M825.5 226.2h.01M718.5 76.1h.01"/>
<path stroke="#ff964f" d="M716.5 290.5h.01M688.8 229.0h.01M825.3 296.1h.01M690.4 88.4h.01M691.0 225.7h.01M688.5 230.7h.01M718.0 298.0h.01"/>
<path stroke="#ffa356" d="M690.1 225.7h.01M815.5 226.0h.01M687.8 228.3h.01M822.2 228.8h.01"/>
<path stroke="#dbd77b" d="M693.3 91.8h.01M715.3 87.4h.01"/>
<path stroke="#99fca6" d="M810.8 230.1h.01M834.2 233.2h.01"/>
<path stroke="#4df3ce" d="M682.7 63.0h.01M695.1 225.3h.01M822.0 228.2h.01"/>
<path stroke="#33e3d9" d="M843.7 286.2h.01"/>
<path stroke="#b2f396" d="M714.8 90.4h.01"/>
<path stroke="#80ffb4" d="M825.6 225.7h.01M832.3 232.2h.01"/>
<path stroke="#ffb462" d="M715.9 87.7h.01M690.0 227.1h.01M687.2 230.0h.01M688.0 229.5h.01M837.4 268.1h.01M837.0 269.5h.01"/>
<path stroke="#1996f3" d="M689.7 221.5h.01M818.6 236.4h.01"/>
<path stroke="#f0c46d" d="M819.5 231.2h.01M740.3 266.2h.01M688.7 77.0h.01"/>
<path stroke="#0fa3f0" d="M734.0 267.2h.01M833.0 225.6h.01M681.8 238.0h.01M712.9 85.2h.01"/>
<path stroke="#6628fe" d="M818.8 226.4h.01M819.7 284.9h.01M687.7 99.3h.01"/>
<path stroke="#29dbde" d="M713.1 292.9h.01M713.2 90.7h.01"/>
<path stroke="#66fcc2" d="M686.3 229.8h.01M840.9 233.3h.01M715.5 81.2h.01"/>
<path stroke="#7510ff" d="M823.0 233.8h.01"/>
<path stroke="#ff4f28" d="M685.2 86.2h.01M682.8 234.7h.01M823.7 227.0h.01"/>
<path stroke="#0fc4e7" d="M827.9 288.4h.01M718.4 62.0h.01"/>
<path stroke="#19cee3" d="M829.9 297.7h.01M686.5 229.7h.01"/>
<path stroke="#0fa3f0" d="M817.6 233.5h.01"/>
<path stroke="#00b4ec" d="M717.8 91.2h.01M821.0 298.0h.01M717.2 291.7h.01M719.8 291.5h.01M732.0 67.3h.01M688.3 77.9h.01M816.1 275.3h.01M690.4 88.4h.01M721.6 282.6h.01"/>
<path stroke="#80ffb4" d="M688.4 80.4h.01M695.0 70.3h.01M686.8 83.4h.01M828.5 227.9h.01M718.0 295.1h.01M682.8 78.2h.01"/>
<path stroke="#faba65" d="M816.8 230.1h.01M686.9 89.5h.01"/>
<path stroke="#ffaf5e" d="M735.6 265.8h.01M716.5 95.2h.01M689.0 86.0h.01"/>
<path stroke="#6628fe" d="M734.8 80.4h.01M689.2 75.7h.01M711.2 83.9h.01"/>
<path stroke="#f0c46d" d="M685.9 91.7h.01M732.9 270.2h.01"/>
<path stroke="#1996f3" d="M833.2 294.1h.01M828.3 298.7h.01"/>
<path stroke="#4df3ce" d="M689.8 227.4h.01M823.1 228.1h.01M712.4 293.5h.01"/>
<path stroke="#ff964f" d="M820.4 231.2h.01M689.4 231.8h.01M854.7 286.3h.01M739.3 264.3h.01M823.4 294.7h.01M825.4 228.5h.01M836.7 281.6h.01"/>
<path stroke="#ff4f28" d="M686.4 93.4h.01M856.4 223.6h.01"/>
<path stroke="#e5ce74" d="M738.2 266.6h.01M688.0 231.6h.01M689.6 229.3h.01M814.6 230.6h.01M685.5 91.8h.01M821.4 229.8h.01"/>
<path stroke="#19cee3" d="M819.1 289.4h.01M685.3 82.8h.01M717.3 289.9h.01M727.8 68.4h.01M715.2 294.8h.01"/>
<path stroke="#2489f5" d="M722.3 78.5h.01M687.6 70.9h.01M834.9 297.9h.01M689.9 227.6h.01"/>
<path stroke="#ffa356" d="M686.5 87.0h.01M738.3 72.6h.01"/>
<path stroke="#66fcc2" d="M684.2 84.9h.01M836.2 226.9h.01M691.7 83.4h.01M732.7 267.2h.01M820.7 296.8h.01"/>
<path stroke="#dbd77b" d="M684.2 90.8h.01M692.0 225.8h.01M824.1 267.2h.01"/>
<path stroke="#7510ff" d="M735.2 265.8h.01"/>
<path stroke="#0fc4e7" d="M689.7 83.0h.01"/>
<path stroke="#ff743c" d="M820.7 225.2h.01"/>
<path stroke="#ffb462" d="M824.8 231.0h.01"/>
<path stroke="#38e7d7" d="M826.5 301.3h.01"/>
<path stroke="#4df3ce" d="M688.9 226.3h.01M824.1 224.2h.01M826.4 266.9h.01"/>
<path stroke="#2489f5" d="M823.1 235.2h.01M714.2 293.8h.01M847.5 230.1h.01"/>
<path stroke="#7510ff" d="M737.5 72.3h.01"/>
<path stroke="#faba65" d="M819.3 229.3h.01M691.5 84.3h.01M688.9 230.0h.01"/>
<path stroke="#6628fe" d="M717.8 110.2h.01"/>
<path stroke="#80ffb4" d="M828.0 297.6h.01M823.1 231.8h.01M727.6 278.0h.01M693.2 88.2h.01M829.2 288.9h.01M714.1 85.3h.01M727.5 277.6h.01"/>
<path stroke="#ffb462" d="M685.6 235.1h.01M688.9 86.6h.01"/>
<path stroke="#e5ce74" d="M832.9 268.1h.01M688.5 65.9h.01M824.3 229.9h.01M831.2 273.5h.01"/>
<path stroke="#99fca6" d="M820.3 294.5h.01M844.5 230.9h.01M740.0 66.7h.01"/>
<path stroke="#19cee3" d="M689.2 228.7h.01M829.2 295.2h.01M716.8 290.1h.01M688.2 79.5h.01M819.1 292.8h.01"/>
<path stroke="#ffa356" d="M689.9 97.1h.01M827.7 228.9h.01M736.3 83.4h.01"/>
<path stroke="#0fc4e7" d="M687.4 83.2h.01M691.0 93.9h.01M720.0 77.1h.01"/>
<path stroke="#ff964f" d="M689.6 227.2h.01M825.7 230.4h.01M717.2 86.0h.01M734.9 85.0h.01M685.4 69.4h.01"/>
<path stroke="#ff2814" d="M740.3 263.9h.01"/>
<path stroke="#ffaf5e" d="M817.8 227.0h.01M686.2 233.5h.01M824.3 229.9h.01"/>
<path stroke="#00b4ec" d="M829.8 230.7h.01M714.2 296.9h.01M825.6 294.9h.01M829.1 298.2h.01"/>
<path stroke="#b2f396" d="M681.2 240.3h.01M684.1 85.0h.01M692.6 86.2h.01"/>
<path stroke="#dbd77b" d="M821.0 227.8h.01"/>
<path stroke="#29dbde" d="M826.8 296.4h.01"/>
<path stroke="#ff4f28" d="M815.9 230.5h.01M817.9 228.8h.01M826.3 226.2h.01"/>
<path stroke="#66fcc2" d="M715.0 90.5h.01M689.7 222.1h.01M692.1 83.0h.01M821.1 296.6h.01"/>
<path stroke="#1996f3" d="M831.9 296.8h.01"/>
<path stroke="#ff743c" d="M811.8 226.3h.01M683.0 98.2h.01M689.4 227.0h.01"/>
<path stroke="#ff8947" d="M821.7 230.5h.01"/>
<path stroke="#f0c46d" d="M688.8 86.7h.01"/>
<path stroke="#38e7d7" d="M720.2 56.2h.01"/>
<path stroke="#0fa3f0" d="M825.8 294.4h.01"/>
<path stroke="#1996f3" d="M687.1 88.1h.01M718.6 290.2h.01M731.3 268.6h.01M712.5 287.9h.01"/>
<path stroke="#ffb462" d="M822.7 267.9h.01M689.9 225.0h.01M839.5 266.8h.01M717.9 82.2h.01"/>
<path stroke="#66fcc2" d="M831.5 269.2h.01M816.8 229.2h.01M827.0 229.9h.01M687.7 83.6h.01M691.9 79.7h.01M827.3 292.6h.01M822.3 297.1h.01"/>
<path stroke="#ffaf5e" d="M822.0 230.3h.01M820.3 229.6h.01M822.0 227.0h.01"/>
<path stroke="#ff964f" d="M686.0 88.2h.01M812.2 227.9h.01M684.4 234.4h.01M684.9 87.5h.01"/>
<path stroke="#e5ce74" d="M824.6 298.8h.01M823.9 229.4h.01M683.2 232.1h.01"/>
<path stroke="#ff8947" d="M683.3 84.4h.01"/>
<path stroke="#00b4ec" d="M832.1 233.6h.01M718.6 97.0h.01M700.2 221.5h.01M827.1 233.6h.01"/>
<path stroke="#38e7d7" d="M716.0 287.0h.01"/>
<path stroke="#19cee3" d="M713.8 294.3h.01M713.7 83.1h.01M820.0 229.4h.01M719.7 84.2h.01M737.3 78.1h.01"/>
<path stroke="#4df3ce" d="M715.9 293.6h.01M714.7 297.2h.01M691.9 74.9h.01"/>
<path stroke="#29dbde" d="M826.4 299.5h.01M828.1 227.3h.01M694.0 83.4h.01M815.4 233.8h.01M686.8 75.6h.01"/>
<path stroke="#33e3d9" d="M734.1 63.4h.01"/>
<path stroke="#dbd77b" d="M822.9 231.4h.01M826.1 228.5h.01M733.4 268.0h.01M685.0 82.7h.01"/>
<path stroke="#80ffb4" d="M722.4 282.0h.01M831.4 297.2h.01M838.8 274.0h.01M733.9 67.0h.01M711.5 293.1h.01M706.2 69.7h.01"/>
<path stroke="#ff743c" d="M684.7 232.3h.01M825.5 229.2h.01M816.9 230.5h.01"/>
<path stroke="#0fc4e7" d="M828.3 301.3h.01M691.7 84.0h.01"/>
<path stroke="#faba65" d="M731.7 74.4h.01"/>
<path stroke="#99fca6" d="M829.9 267.7h.01M826.3 295.6h.01M834.8 286.6h.01"/>
<path stroke="#ff4f28" d="M694.8 88.7h.01M846.0 232.8h.01M831.8 267.1h.01"/>
<path stroke="#b2f396" d="M701.2 223.2h.01"/>
<path stroke="#2489f5" d="M830.2 296.9h.01"/>
<path stroke="#2489f5" d="M821.4 232.1h.01M718.6 87.9h.01"/>
<path stroke="#80ffb4" d="M813.8 225.9h.01M840.7 223.3h.01M835.0 294.2h.01M823.3 224.4h.01"/>
<path stroke="#ff964f" d="M682.3 239.3h.01M688.4 229.3h.01M694.2 224.7h.01M685.9 231.9h.01M824.5 225.9h.01"/>
<path stroke="#19cee3" d="M808.8 232.2h.01M825.2 232.0h.01M718.4 86.0h.01M829.5 299.0h.01M821.8 297.9h.01M717.1 81.3h.01M715.4 82.5h.01M718.7 84.8h.01"/>
<path stroke="#b2f396" d="M714.9 295.5h.01M695.2 73.4h.01"/>
<path stroke="#1996f3" d="M714.0 298.4h.01M711.9 291.5h.01M821.3 232.5h.01"/>
<path stroke="#ffb462" d="M690.7 84.7h.01M732.3 85.0h.01M688.2 88.7h.01M838.2 268.7h.01M823.3 225.9h.01"/>
<path stroke="#ff8947" d="M818.8 229.0h.01M691.0 226.1h.01M688.0 92.9h.01"/>
<path stroke="#ff743c" d="M690.3 95.4h.01M731.3 72.1h.01M824.7 226.7h.01M691.4 228.9h.01M825.8 230.2h.01"/>
<path stroke="#ffa356" d="M685.5 93.0h.01"/>
<path stroke="#4df3ce" d="M822.9 282.6h.01M718.2 298.4h.01M717.4 95.1h.01M719.1 301.1h.01M723.9 294.7h.01"/>
<path stroke="#00b4ec" d="M688.0 230.7h.01M825.5 230.8h.01M691.3 89.5h.01M689.1 83.3h.01"/>
<path stroke="#e5ce74" d="M738.9 265.6h.01M686.6 233.6h.01"/>
<path stroke="#0fa3f0" d="M826.8 293.4h.01M690.0 93.6h.01M716.2 83.0h.01"/>
<path stroke="#ff4f28" d="M809.6 230.4h.01M739.0 265.1h.01M731.5 69.7h.01M688.6 228.4h.01"/>
<path stroke="#f0c46d" d="M821.3 226.7h.01M733.5 82.9h.01"/>
<path stroke="#66fcc2" d="M717.8 288.4h.01M691.2 82.3h.01M819.1 300.0h.01"/>
<path stroke="#29dbde" d="M682.5 228.7h.01M684.6 101.6h.01"/>
<path stroke="#99fca6" d="M836.6 223.9h.01M829.7 303.2h.01"/>
<path stroke="#dbd77b" d="M830.9 266.3h.01M820.3 228.0h.01"/>
<path stroke="#0fc4e7" d="M712.1 89.1h.01"/>
<path stroke="#faba65" d="M687.1 234.4h.01"/>
<path stroke="#38e7d7" d="M828.8 293.7h.01"/>
<path stroke="#0fa3f0" d="M718.5 92.4h.01"/>
<path stroke="#66fcc2" d="M712.7 293.1h.01M690.2 96.2h.01M688.9 62.4h.01"/>
<path stroke="#e5ce74" d="M691.2 226.0h.01M685.7 231.4h.01"/>
<path stroke="#19cee3" d="M830.8 294.8h.01M823.2 290.6h.01M715.7 82.3h.01M726.9 73.7h.01M715.3 293.5h.01"/>
<path stroke="#00b4ec" d="M827.4 293.4h.01M713.7 293.8h.01M737.2 265.5h.01"/>
<path stroke="#99fca6" d="M689.4 89.6h.01"/>
<path stroke="#ff8947" d="M685.3 233.3h.01M687.2 227.6h.01M715.5 295.6h.01"/>
<path stroke="#f0c46d" d="M688.5 94.9h.01M823.2 229.0h.01M815.9 230.3h.01"/>
<path stroke="#29dbde" d="M831.3 230.7h.01M686.2 81.8h.01M717.8 290.9h.01M720.7 98.7h.01M710.6 84.7h.01M717.9 297.2h.01M687.7 226.9h.01"/>
<path stroke="#dbd77b" d="M825.3 229.5h.01M735.7 78.0h.01M682.8 234.1h.01M821.9 231.5h.01M689.7 89.4h.01M734.9 265.6h.01"/>
<path stroke="#80ffb4" d="M719.6 293.4h.01M686.4 83.6h.01M817.1 233.8h.01M692.3 230.2h.01M821.3 229.4h.01"/>
<path stroke="#0fc4e7" d="M829.3 298.4h.01M686.1 79.7h.01"/>
<path stroke="#ffaf5e" d="M687.1 84.1h.01M686.2 96.1h.01"/>
<path stroke="#ffa356" d="M819.9 295.4h.01M822.6 231.3h.01M684.6 230.4h.01M732.9 85.6h.01"/>
<path stroke="#ffb462" d="M825.8 229.1h.01M689.4 93.0h.01M729.6 276.9h.01M684.6 92.2h.01M819.9 231.8h.01M828.3 269.5h.01M687.5 93.5h.01"/>
<path stroke="#ff964f" d="M687.1 85.2h.01M687.0 88.3h.01M691.7 95.8h.01M684.4 233.2h.01"/>
<path stroke="#faba65" d="M718.1 83.7h.01M822.7 230.1h.01M687.6 229.0h.01M823.2 228.4h.01"/>
<path stroke="#ff4f28" d="M725.6 278.3h.01M717.9 69.2h.01"/>
<path stroke="#ff743c" d="M688.4 226.6h.01"/>
<path stroke="#4df3ce" d="M814.6 291.7h.01M688.4 234.5h.01M823.8 232.0h.01M685.7 94.7h.01"/>
<path stroke="#38e7d7" d="M691.9 82.1h.01"/>
<path stroke="#f0c46d" d="M690.4 231.2h.01M819.1 229.8h.01M689.1 90.6h.01M715.8 290.7h.01"/>
<path stroke="#ffa356" d="M735.7 90.4h.01M832.4 266.5h.01M818.7 229.5h.01"/>
<path stroke="#ff964f" d="M829.6 268.6h.01M826.2 296.4h.01M817.6 229.2h.01M687.9 228.0h.01M825.6 231.1h.01M820.4 230.0h.01M688.0 228.3h.01M735.6 75.6h.01M715.7 292.2h.01"/>
<path stroke="#ff5e30" d="M737.7 264.2h.01"/>
<path stroke="#ffb462" d="M686.3 95.8h.01M718.6 79.2h.01M716.2 87.4h.01"/>
<path stroke="#4df3ce" d="M822.3 222.9h.01M712.3 293.2h.01M686.4 87.8h.01M831.4 294.9h.01M685.6 77.9h.01M718.7 293.2h.01M688.5 94.7h.01M689.1 94.3h.01"/>
<path stroke="#38e7d7" d="M710.7 297.2h.01M831.2 232.5h.01"/>
<path stroke="#ffaf5e" d="M847.8 264.4h.01M685.2 230.7h.01M820.2 230.3h.01M825.7 231.5h.01"/>
<path stroke="#ff8947" d="M820.6 229.3h.01M824.9 230.4h.01M688.0 232.4h.01M821.6 228.6h.01M692.4 228.5h.01M687.3 94.3h.01"/>
<path stroke="#29dbde" d="M721.2 88.6h.01"/>
<path stroke="#e5ce74" d="M686.9 231.8h.01M692.2 221.5h.01M687.3 90.5h.01M689.6 85.3h.01"/>
<path stroke="#80ffb4" d="M723.4 299.0h.01M829.6 225.5h.01M819.2 227.3h.01M686.1 235.9h.01M827.4 227.8h.01"/>
<path stroke="#99fca6" d="M829.3 294.1h.01M820.4 227.3h.01M824.3 227.9h.01M825.3 268.5h.01"/>
<path stroke="#ff4f28" d="M688.3 87.7h.01"/>
<path stroke="#faba65" d="M821.0 228.9h.01M827.0 227.6h.01M822.9 224.9h.01M686.8 92.5h.01"/>
<path stroke="#dbd77b" d="M686.2 87.8h.01M689.5 89.4h.01M715.7 295.7h.01M692.2 89.5h.01"/>
<path stroke="#66fcc2" d="M698.1 217.7h.01M735.7 268.3h.01M833.1 229.1h.01M828.1 291.2h.01"/>
<path stroke="#33e3d9" d="M813.8 230.6h.01"/>
<path stroke="#ff743c" d="M821.2 228.2h.01M736.7 81.1h.01"/>
<path stroke="#ff964f" d="M686.8 230.5h.01M686.2 235.2h.01M820.4 226.6h.01M732.8 273.0h.01M690.8 66.9h.01M684.1 231.8h.01M824.3 297.8h.01M688.9 89.1h.01M690.1 229.8h.01M824.6 232.1h.01M690.6 91.7h.01M837.8 225.1h.01M820.7 228.2h.01"/>
<path stroke="#ffa356" d="M854.8 266.2h.01"/>
<path stroke="#ffb462" d="M686.7 229.2h.01M689.3 230.6h.01M682.4 235.4h.01M690.7 230.9h.01M736.7 83.4h.01"/>
<path stroke="#4df3ce" d="M708.6 293.2h.01"/>
<path stroke="#99fca6" d="M842.4 220.8h.01M691.6 92.3h.01M679.0 85.0h.01M826.0 230.6h.01M683.7 66.6h.01"/>
<path stroke="#ff8947" d="M689.0 91.9h.01M685.6 233.4h.01M825.8 230.3h.01M690.9 223.4h.01M822.7 228.7h.01"/>
<path stroke="#ff743c" d="M689.7 93.3h.01M688.6 230.9h.01M687.9 84.7h.01"/>
<path stroke="#66fcc2" d="M686.5 92.1h.01M842.9 225.6h.01"/>
<path stroke="#b2f396" d="M818.3 233.1h.01M824.0 234.7h.01"/>
<path stroke="#ff4f28" d="M824.6 229.5h.01M691.7 228.4h.01M822.8 230.1h.01M711.7 83.8h.01"/>
<path stroke="#80ffb4" d="M715.7 81.1h.01M697.0 81.2h.01M684.7 230.0h.01M710.4 295.7h.01M826.3 225.7h.01M817.1 232.1h.01"/>
<path stroke="#e5ce74" d="M689.8 90.9h.01M848.0 266.6h.01M714.6 287.9h.01M689.1 94.3h.01M687.0 230.5h.01"/>
<path stroke="#dbd77b" d="M690.8 230.2h.01"/>
<path stroke="#ffaf5e" d="M691.6 86.6h.01M691.0 229.2h.01M709.7 295.5h.01M818.6 229.1h.01M826.4 298.4h.01M721.8 87.3h.01M734.9 75.4h.01"/>
<path stroke="#faba65" d="M686.7 92.3h.01M714.7 296.9h.01M686.5 89.6h.01M824.1 226.6h.01"/>
<path stroke="#f0c46d" d="M713.3 297.6h.01M824.1 230.5h.01M682.2 91.4h.01M816.1 295.2h.01"/>
<path stroke="#ff2814" d="M832.4 266.7h.01M736.9 268.8h.01"/>
<path stroke="#ff743c" d="M818.2 226.8h.01M736.3 82.9h.01M689.1 228.8h.01M829.0 294.6h.01M688.4 229.1h.01"/>
<path stroke="#ff964f" d="M738.6 265.4h.01M690.6 94.2h.01M717.7 293.8h.01M715.0 295.1h.01M691.2 67.7h.01M821.0 231.5h.01M814.8 228.7h.01M685.7 84.7h.01"/>
<path stroke="#ffb462" d="M685.3 89.0h.01M736.7 75.6h.01M827.0 232.4h.01M729.0 80.6h.01M819.5 228.8h.01M686.9 235.0h.01"/>
<path stroke="#dbd77b" d="M680.9 93.0h.01M692.0 89.9h.01M734.4 268.0h.01M689.8 94.0h.01M827.6 231.8h.01M814.8 226.8h.01M816.8 231.0h.01"/>
<path stroke="#ffaf5e" d="M687.9 89.5h.01M688.5 230.2h.01M830.1 296.1h.01M689.7 91.6h.01M830.7 266.7h.01M691.7 84.9h.01M820.1 230.0h.01M819.0 227.1h.01"/>
<path stroke="#99fca6" d="M816.3 230.0h.01"/>
<path stroke="#b2f396" d="M711.1 291.7h.01M716.8 293.5h.01"/>
<path stroke="#f0c46d" d="M829.9 267.8h.01M686.8 86.0h.01M825.9 229.7h.01M685.6 93.1h.01M689.1 231.1h.01"/>
<path stroke="#ffa356" d="M689.0 229.6h.01M683.1 93.0h.01M684.3 87.4h.01"/>
<path stroke="#ff4f28" d="M733.7 82.8h.01M834.7 284.7h.01M685.1 229.0h.01M817.0 227.1h.01M821.2 292.0h.01M720.4 285.0h.01M816.9 233.8h.01"/>
<path stroke="#ff2814" d="M822.2 267.0h.01"/>
<path stroke="#ff8947" d="M685.0 91.4h.01M689.3 226.7h.01M733.1 267.5h.01M686.2 88.0h.01"/>
<path stroke="#e5ce74" d="M687.7 229.5h.01M811.8 267.1h.01M691.7 225.5h.01M687.7 86.4h.01M685.9 90.5h.01M840.9 285.3h.01M688.1 229.9h.01M688.9 84.5h.01"/>
<path stroke="#faba65" d="M715.5 88.7h.01M688.7 233.6h.01M690.4 227.1h.01M690.2 228.4h.01M687.3 231.0h.01"/>
<path stroke="#ffa356" d="M691.5 73.2h.01M714.0 291.6h.01M686.0 232.7h.01M689.0 74.6h.01M687.3 231.3h.01M689.2 92.2h.01"/>
<path stroke="#faba65" d="M820.8 231.6h.01M814.9 227.9h.01M824.6 229.7h.01M680.5 233.3h.01M683.3 85.4h.01"/>
<path stroke="#ff964f" d="M681.2 236.1h.01M683.8 96.5h.01M687.6 86.4h.01M736.6 63.4h.01M734.2 269.5h.01M691.7 87.9h.01"/>
<path stroke="#ff4f28" d="M819.4 231.1h.01M820.3 228.4h.01M737.2 266.7h.01M825.5 230.9h.01M715.5 87.8h.01M824.1 231.3h.01M738.9 78.6h.01M736.1 265.8h.01M717.3 91.6h.01M715.4 94.1h.01M839.3 289.6h.01M821.1 228.9h.01M717.1 293.6h.01M737.6 264.2h.01M711.5 291.2h.01M735.6 268.6h.01M688.2 93.9h.01"/>
<path stroke="#e5ce74" d="M723.5 294.4h.01"/>
<path stroke="#ffaf5e" d="M823.8 268.0h.01M732.4 266.5h.01M822.9 230.6h.01M687.9 231.1h.01M688.3 227.5h.01M825.3 231.5h.01"/>
<path stroke="#ff743c" d="M687.0 230.2h.01M819.9 229.4h.01M686.6 87.0h.01M717.5 294.4h.01M689.4 86.7h.01"/>
<path stroke="#ffb462" d="M685.8 233.4h.01M726.1 280.1h.01M819.7 295.4h.01"/>
<path stroke="#ff8947" d="M817.5 229.9h.01M736.6 77.6h.01M689.2 231.1h.01M734.1 268.3h.01"/>
</g>
<polygon points="559.5,355.2 560.7,358.6 564.4,358.7 561.5,360.9 562.5,364.4 559.5,362.4 556.5,364.4 557.5,360.9 554.6,358.7 558.3,358.6" fill="#ffff00" stroke="#008000" stroke-width="1.2" stroke-linejoin="miter"/>
<polygon points="512.6,397.3 513.8,400.7 517.5,400.8 514.6,403.0 515.6,406.5 512.6,404.5 509.6,406.5 510.6,403.0 507.7,400.8 511.4,400.7" fill="#ffff00" stroke="#008000" stroke-width="1.2" stroke-linejoin="miter"/>
<polygon points="534.3,399.9 535.5,403.3 539.2,403.4 536.3,405.6 537.3,409.1 534.3,407.1 531.3,409.1 532.3,405.6 529.4,403.4 533.1,403.3" fill="#ffff00" stroke="#008000" stroke-width="1.2" stroke-linejoin="miter"/>
<polygon points="568.5,395.1 569.7,398.5 573.4,398.6 570.5,400.8 571.5,404.3 568.5,402.3 565.5,404.3 566.5,400.8 563.6,398.6 567.3,398.5" fill="#ffff00" stroke="#008000" stroke-width="1.2" stroke-linejoin="miter"/>
<polygon points="557.5,410.0 558.7,413.4 562.4,413.5 559.5,415.7 560.5,419.2 557.5,417.2 554.5,419.2 555.5,415.7 552.6,413.5 556.3,413.4" fill="#ffff00" stroke="#008000" stroke-width="1.2" stroke-linejoin="miter"/>
<polygon points="540.4,421.0 541.6,424.4 545.3,424.5 542.4,426.7 543.4,430.2 540.4,428.2 537.4,430.2 538.4,426.7 535.5,424.5 539.2,424.4" fill="#ffff00" stroke="#008000" stroke-width="1.2" stroke-linejoin="miter"/>
<polygon points="508.4,431.0 509.6,434.4 513.3,434.5 510.4,436.7 511.4,440.2 508.4,438.2 505.4,440.2 506.4,436.7 503.5,434.5 507.2,434.4" fill="#ffff00" stroke="#008000" stroke-width="1.2" stroke-linejoin="miter"/>
<polygon points="573.6,442.1 574.8,445.5 578.5,445.6 575.6,447.8 576.6,451.3 573.6,449.3 570.6,451.3 571.6,447.8 568.7,445.6 572.4,445.5" fill="#ffff00" stroke="#008000" stroke-width="1.2" stroke-linejoin="miter"/>
<polygon points="510.4,452.9 511.6,456.3 515.3,456.4 512.4,458.6 513.4,462.1 510.4,460.1 507.4,462.1 508.4,458.6 505.5,456.4 509.2,456.3" fill="#ffff00" stroke="#008000" stroke-width="1.2" stroke-linejoin="miter"/>
<polygon points="537.3,450.3 538.5,453.7 542.2,453.8 539.3,456.0 540.3,459.5 537.3,457.5 534.3,459.5 535.3,456.0 532.4,453.8 536.1,453.7" fill="#ffff00" stroke="#008000" stroke-width="1.2" stroke-linejoin="miter"/>
<polygon points="546.5,467.9 547.7,471.3 551.4,471.4 548.5,473.6 549.5,477.1 546.5,475.1 543.5,477.1 544.5,473.6 541.6,471.4 545.3,471.3" fill="#ffff00" stroke="#008000" stroke-width="1.2" stroke-linejoin="miter"/>
<polygon points="546.4,515.1 547.6,518.5 551.3,518.6 548.4,520.8 549.4,524.3 546.4,522.3 543.4,524.3 544.4,520.8 541.5,518.6 545.2,518.5" fill="#ffff00" stroke="#008000" stroke-width="1.2" stroke-linejoin="miter"/>
<path d="M241.6 157.1V653.1H752.5" stroke="#000" stroke-width="1.1" fill="none"/>
<path d="M242 157V54H862V652.9H752.5" stroke="#000" stroke-width="2" fill="none" stroke-linejoin="miter"/>
<path d="M241 157.3H863M752.6 53V653.8" stroke="#000" stroke-width="3" fill="none"/>
<text class="tk" x="219.3" y="51.9">15</text>
<text class="tk" x="219.3" y="87.3">10</text>
<text class="tk" x="219.3" y="122.0">5</text>
<text class="tk" x="219.3" y="156.6">0</text>
<text x="195.5" y="104.9" text-anchor="middle" font-size="11.46">Km</text>
<text class="tk" x="233.6" y="654.8" text-anchor="end">40°N</text>
<text class="tk" x="233.6" y="607.0" text-anchor="end">40.5°N</text>
<text class="tk" x="233.6" y="558.8" text-anchor="end">41°N</text>
<text class="tk" x="233.6" y="510.2" text-anchor="end">41.5°N</text>
<text class="tk" x="233.6" y="461.3" text-anchor="end">42°N</text>
<text class="tk" x="233.6" y="412.0" text-anchor="end">42.5°N</text>
<text class="tk" x="233.6" y="362.3" text-anchor="end">43°N</text>
<text class="tk" x="233.6" y="312.2" text-anchor="end">43.5°N</text>
<text class="tk" x="233.6" y="261.7" text-anchor="end">44°N</text>
<text class="tk" x="233.6" y="210.7" text-anchor="end">44.5°N</text>
<text class="tk" x="241.7" y="667" text-anchor="middle">5°E</text>
<text class="tk" x="277.7" y="667" text-anchor="middle">5.5°E</text>
<text class="tk" x="314.7" y="667" text-anchor="middle">6°E</text>
<text class="tk" x="350.7" y="667" text-anchor="middle">6.5°E</text>
<text class="tk" x="387.7" y="667" text-anchor="middle">7°E</text>
<text class="tk" x="423.7" y="667" text-anchor="middle">7.5°E</text>
<text class="tk" x="460.7" y="667" text-anchor="middle">8°E</text>
<text class="tk" x="496.7" y="667" text-anchor="middle">8.5°E</text>
<text class="tk" x="533.6" y="667" text-anchor="middle">9°E</text>
<text class="tk" x="569.6" y="667" text-anchor="middle">9.5°E</text>
<text class="tk" x="606.6" y="667" text-anchor="middle">10°E</text>
<text class="tk" x="642.6" y="667" text-anchor="middle">10.5°E</text>
<text class="tk" x="679.6" y="667" text-anchor="middle">11°E</text>
<text class="tk" x="715.6" y="667" text-anchor="middle">11.5°E</text>
<text class="tk" x="752.7" y="667">0</text>
<text class="tk" x="788.9" y="667">5</text>
<text class="tk" x="825.5" y="667">10</text>
<text class="tk" x="862.3" y="667">15</text>
<text x="817" y="676" text-anchor="middle" font-size="11.46">Km</text>
<text x="766" y="83.7" font-size="10.4"> 6  :     5804</text>
<text x="766" y="94.0" font-size="10.4" fill="#ff0000" style="fill:#ff0000"> 7  :     1285</text>
<text x="766" y="104.6" font-size="10.4"> 8  :      469</text>
<text x="766" y="115.0" font-size="10.4"> 9  :      245</text>
<text x="766" y="125.5" font-size="10.4">10  :       96</text>
<text x="766" y="135.9" font-size="10.4">11  :        0</text>
<text x="766" y="145.8" font-size="10.4">12  :        0</text>
<rect x="158.4" y="690.4" width="786.8" height="38" fill="url(#rb)" stroke="#000" stroke-width="0.8"/>
<path d="M158.4 728.4v3.6" stroke="#000" stroke-width="0.8"/>
<text class="tk" x="158.4" y="743.2" text-anchor="middle">0</text>
<path d="M315.8 728.4v3.6" stroke="#000" stroke-width="0.8"/>
<text class="tk" x="315.8" y="743.2" text-anchor="middle">2</text>
<path d="M473.1 728.4v3.6" stroke="#000" stroke-width="0.8"/>
<text class="tk" x="473.1" y="743.2" text-anchor="middle">4</text>
<path d="M630.5 728.4v3.6" stroke="#000" stroke-width="0.8"/>
<text class="tk" x="630.5" y="743.2" text-anchor="middle">6</text>
<path d="M787.8 728.4v3.6" stroke="#000" stroke-width="0.8"/>
<text class="tk" x="787.8" y="743.2" text-anchor="middle">8</text>
<path d="M945.2 728.4v3.6" stroke="#000" stroke-width="0.8"/>
<text class="tk" x="945.2" y="743.2" text-anchor="middle">10</text>
<text x="557.2" y="718.5" text-anchor="middle" font-size="18.8">from 18:50:00 to 18:59:59</text>
</svg></body></html>
